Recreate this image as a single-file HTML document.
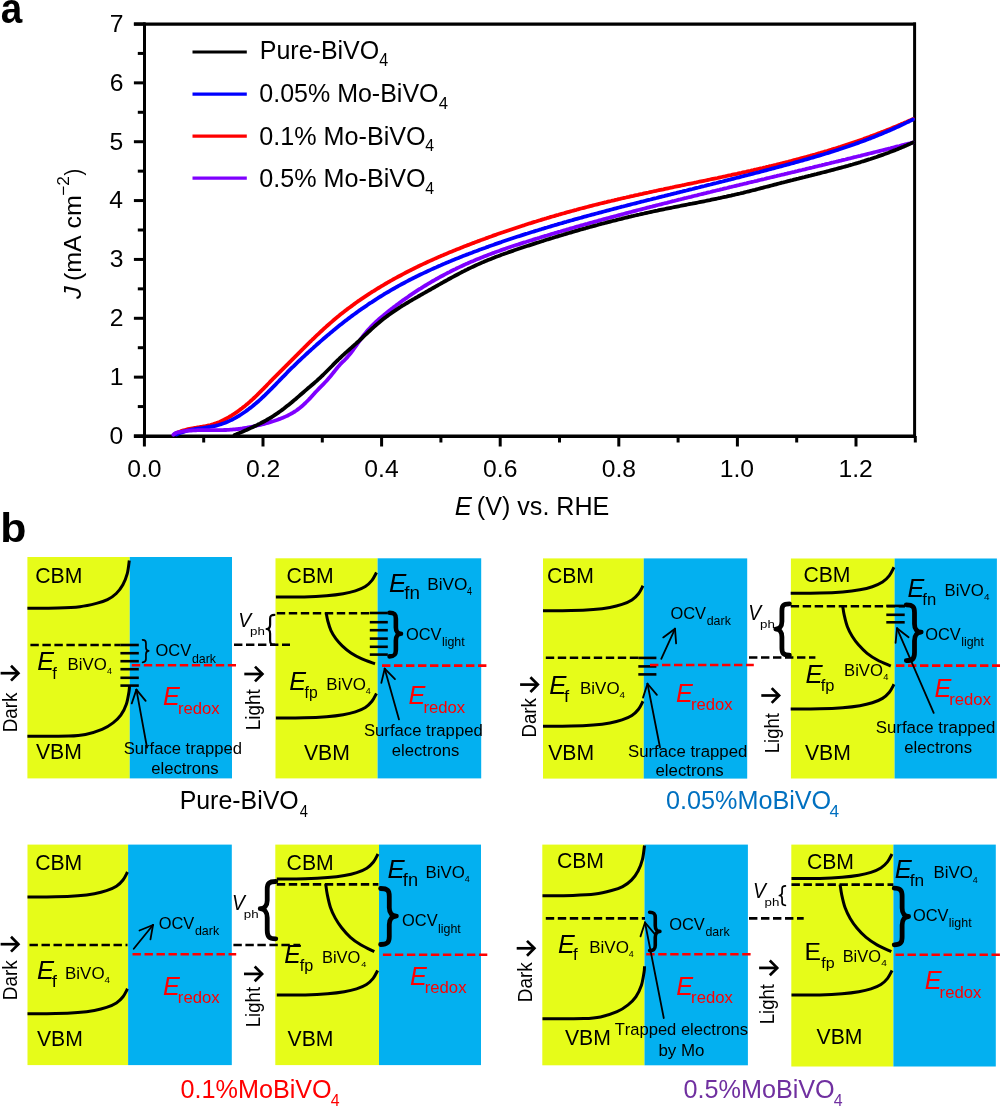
<!DOCTYPE html>
<html><head><meta charset="utf-8"><style>
html,body{margin:0;padding:0;background:#fff;}
svg{display:block;will-change:transform;}
text{font-family:"Liberation Sans", sans-serif;font-kerning:none;}
</style></head><body>
<svg width="1000" height="1107" viewBox="0 0 1000 1107">
<rect x="0" y="0" width="1000" height="1107" fill="#fff"/>
<line x1="144.50" y1="22.60" x2="144.50" y2="437.50" stroke="#000" stroke-width="3.00" stroke-linecap="butt"/>
<line x1="133.90" y1="24.20" x2="916.00" y2="24.20" stroke="#000" stroke-width="3.20" stroke-linecap="butt"/>
<line x1="914.60" y1="22.60" x2="914.60" y2="437.50" stroke="#000" stroke-width="3.00" stroke-linecap="butt"/>
<line x1="133.90" y1="436.20" x2="916.00" y2="436.20" stroke="#000" stroke-width="3.40" stroke-linecap="butt"/>
<line x1="133.90" y1="436.00" x2="145.00" y2="436.00" stroke="#000" stroke-width="3.00" stroke-linecap="butt"/>
<line x1="133.90" y1="377.14" x2="145.00" y2="377.14" stroke="#000" stroke-width="3.00" stroke-linecap="butt"/>
<line x1="133.90" y1="318.29" x2="145.00" y2="318.29" stroke="#000" stroke-width="3.00" stroke-linecap="butt"/>
<line x1="133.90" y1="259.43" x2="145.00" y2="259.43" stroke="#000" stroke-width="3.00" stroke-linecap="butt"/>
<line x1="133.90" y1="200.57" x2="145.00" y2="200.57" stroke="#000" stroke-width="3.00" stroke-linecap="butt"/>
<line x1="133.90" y1="141.72" x2="145.00" y2="141.72" stroke="#000" stroke-width="3.00" stroke-linecap="butt"/>
<line x1="133.90" y1="82.86" x2="145.00" y2="82.86" stroke="#000" stroke-width="3.00" stroke-linecap="butt"/>
<line x1="133.90" y1="24.00" x2="145.00" y2="24.00" stroke="#000" stroke-width="3.00" stroke-linecap="butt"/>
<line x1="137.80" y1="406.57" x2="145.00" y2="406.57" stroke="#000" stroke-width="3.00" stroke-linecap="butt"/>
<line x1="137.80" y1="347.71" x2="145.00" y2="347.71" stroke="#000" stroke-width="3.00" stroke-linecap="butt"/>
<line x1="137.80" y1="288.86" x2="145.00" y2="288.86" stroke="#000" stroke-width="3.00" stroke-linecap="butt"/>
<line x1="137.80" y1="230.00" x2="145.00" y2="230.00" stroke="#000" stroke-width="3.00" stroke-linecap="butt"/>
<line x1="137.80" y1="171.14" x2="145.00" y2="171.14" stroke="#000" stroke-width="3.00" stroke-linecap="butt"/>
<line x1="137.80" y1="112.29" x2="145.00" y2="112.29" stroke="#000" stroke-width="3.00" stroke-linecap="butt"/>
<line x1="137.80" y1="53.43" x2="145.00" y2="53.43" stroke="#000" stroke-width="3.00" stroke-linecap="butt"/>
<line x1="144.40" y1="436.00" x2="144.40" y2="446.50" stroke="#000" stroke-width="3.00" stroke-linecap="butt"/>
<line x1="263.00" y1="436.00" x2="263.00" y2="446.50" stroke="#000" stroke-width="3.00" stroke-linecap="butt"/>
<line x1="381.60" y1="436.00" x2="381.60" y2="446.50" stroke="#000" stroke-width="3.00" stroke-linecap="butt"/>
<line x1="500.20" y1="436.00" x2="500.20" y2="446.50" stroke="#000" stroke-width="3.00" stroke-linecap="butt"/>
<line x1="618.80" y1="436.00" x2="618.80" y2="446.50" stroke="#000" stroke-width="3.00" stroke-linecap="butt"/>
<line x1="737.40" y1="436.00" x2="737.40" y2="446.50" stroke="#000" stroke-width="3.00" stroke-linecap="butt"/>
<line x1="856.00" y1="436.00" x2="856.00" y2="446.50" stroke="#000" stroke-width="3.00" stroke-linecap="butt"/>
<line x1="203.70" y1="436.00" x2="203.70" y2="442.50" stroke="#000" stroke-width="3.00" stroke-linecap="butt"/>
<line x1="322.30" y1="436.00" x2="322.30" y2="442.50" stroke="#000" stroke-width="3.00" stroke-linecap="butt"/>
<line x1="440.90" y1="436.00" x2="440.90" y2="442.50" stroke="#000" stroke-width="3.00" stroke-linecap="butt"/>
<line x1="559.50" y1="436.00" x2="559.50" y2="442.50" stroke="#000" stroke-width="3.00" stroke-linecap="butt"/>
<line x1="678.10" y1="436.00" x2="678.10" y2="442.50" stroke="#000" stroke-width="3.00" stroke-linecap="butt"/>
<line x1="796.70" y1="436.00" x2="796.70" y2="442.50" stroke="#000" stroke-width="3.00" stroke-linecap="butt"/>
<line x1="915.30" y1="436.00" x2="915.30" y2="442.50" stroke="#000" stroke-width="3.00" stroke-linecap="butt"/>
<text x="109.53" y="443.90" style="font-size:24.70px;fill:#000">0</text>
<text x="109.77" y="385.04" style="font-size:24.70px;fill:#000">1</text>
<text x="109.81" y="326.19" style="font-size:24.70px;fill:#000">2</text>
<text x="109.65" y="267.33" style="font-size:24.70px;fill:#000">3</text>
<text x="109.29" y="208.47" style="font-size:24.70px;fill:#000">4</text>
<text x="109.60" y="149.62" style="font-size:24.70px;fill:#000">5</text>
<text x="109.65" y="90.76" style="font-size:24.70px;fill:#000">6</text>
<text x="109.81" y="31.90" style="font-size:24.70px;fill:#000">7</text>
<text x="127.23" y="476.60" style="font-size:24.70px;fill:#000">0.0</text>
<text x="245.97" y="476.60" style="font-size:24.70px;fill:#000">0.2</text>
<text x="364.31" y="476.60" style="font-size:24.70px;fill:#000">0.4</text>
<text x="483.09" y="476.60" style="font-size:24.70px;fill:#000">0.6</text>
<text x="601.69" y="476.60" style="font-size:24.70px;fill:#000">0.8</text>
<text x="719.77" y="476.60" style="font-size:24.70px;fill:#000">1.0</text>
<text x="838.51" y="476.60" style="font-size:24.70px;fill:#000">1.2</text>
<path d="M174.5,434.1 L176.0,433.3 L177.5,432.6 L179.0,432.0 L180.5,431.4 L182.0,430.9 L183.5,430.4 L185.0,430.0 L186.5,429.6 L188.0,429.2 L189.5,428.9 L191.0,428.6 L192.5,428.3 L194.0,428.0 L195.5,427.8 L197.0,427.5 L198.5,427.3 L200.0,427.0 L201.5,426.8 L203.0,426.5 L204.5,426.3 L206.0,426.0 L207.5,425.7 L209.0,425.3 L210.5,425.0 L212.0,424.5 L213.5,424.1 L215.0,423.6 L216.5,423.1 L218.0,422.5 L219.5,421.9 L221.0,421.2 L222.5,420.5 L224.0,419.8 L225.5,419.0 L227.0,418.2 L228.5,417.4 L230.0,416.5 L231.5,415.6 L233.0,414.6 L234.5,413.7 L236.0,412.6 L237.5,411.6 L239.0,410.5 L240.5,409.4 L242.0,408.3 L243.5,407.1 L245.0,405.9 L246.5,404.6 L248.0,403.4 L249.5,402.1 L251.0,400.7 L252.5,399.4 L254.0,398.0 L255.5,396.6 L257.0,395.2 L258.5,393.7 L260.0,392.2 L261.5,390.7 L263.0,389.2 L264.5,387.6 L266.0,386.1 L267.5,384.5 L269.0,383.0 L270.5,381.4 L272.0,379.9 L273.5,378.3 L275.0,376.8 L276.5,375.3 L278.0,373.8 L279.5,372.3 L281.0,370.8 L282.5,369.3 L284.0,367.8 L285.5,366.3 L287.0,364.8 L288.5,363.3 L290.0,361.8 L291.5,360.3 L293.0,358.8 L294.5,357.3 L296.0,355.8 L297.5,354.3 L299.0,352.8 L300.5,351.3 L302.0,349.8 L303.5,348.4 L305.0,346.9 L306.5,345.4 L308.0,343.9 L309.5,342.4 L311.0,341.0 L312.5,339.5 L314.0,338.1 L315.5,336.6 L317.0,335.2 L318.5,333.8 L320.0,332.4 L321.5,331.0 L323.0,329.6 L324.5,328.2 L326.0,326.9 L327.5,325.5 L329.0,324.2 L330.5,322.9 L332.0,321.6 L333.5,320.3 L335.0,319.0 L336.5,317.8 L338.0,316.6 L339.5,315.3 L341.0,314.1 L342.5,312.9 L344.0,311.8 L345.5,310.6 L347.0,309.4 L348.5,308.3 L350.0,307.2 L351.5,306.1 L353.0,305.0 L354.5,303.9 L356.0,302.8 L357.5,301.7 L359.0,300.7 L360.5,299.6 L362.0,298.6 L363.5,297.6 L365.0,296.6 L366.5,295.6 L368.0,294.6 L369.5,293.6 L371.0,292.7 L372.5,291.7 L374.0,290.8 L375.5,289.8 L377.0,288.9 L378.5,288.0 L380.0,287.1 L381.5,286.2 L383.0,285.3 L384.5,284.4 L386.0,283.5 L387.5,282.6 L389.0,281.8 L390.5,280.9 L392.0,280.1 L393.5,279.2 L395.0,278.4 L396.5,277.6 L398.0,276.8 L399.5,276.0 L401.0,275.2 L402.5,274.4 L404.0,273.6 L405.5,272.8 L407.0,272.0 L408.5,271.2 L410.0,270.5 L411.5,269.7 L413.0,269.0 L414.5,268.2 L416.0,267.5 L417.5,266.8 L419.0,266.0 L420.5,265.3 L422.0,264.6 L423.5,263.9 L425.0,263.2 L426.5,262.5 L428.0,261.8 L429.5,261.1 L431.0,260.4 L432.5,259.8 L434.0,259.1 L435.5,258.4 L437.0,257.8 L438.5,257.1 L440.0,256.5 L441.5,255.8 L443.0,255.2 L444.5,254.5 L446.0,253.9 L447.5,253.3 L449.0,252.6 L450.5,252.0 L452.0,251.4 L453.5,250.8 L455.0,250.2 L456.5,249.6 L458.0,249.0 L459.5,248.4 L461.0,247.8 L462.5,247.2 L464.0,246.6 L465.5,246.0 L467.0,245.4 L468.5,244.9 L470.0,244.3 L471.5,243.7 L473.0,243.1 L474.5,242.6 L476.0,242.0 L477.5,241.4 L479.0,240.9 L480.5,240.3 L482.0,239.8 L483.5,239.2 L485.0,238.7 L486.5,238.1 L488.0,237.6 L489.5,237.0 L491.0,236.5 L492.5,235.9 L494.0,235.4 L495.5,234.9 L497.0,234.3 L498.5,233.8 L500.0,233.3 L501.5,232.8 L503.0,232.3 L504.5,231.7 L506.0,231.2 L507.5,230.7 L509.0,230.2 L510.5,229.7 L512.0,229.2 L513.5,228.7 L515.0,228.2 L516.5,227.7 L518.0,227.2 L519.5,226.7 L521.0,226.2 L522.5,225.7 L524.0,225.3 L525.5,224.8 L527.0,224.3 L528.5,223.8 L530.0,223.3 L531.5,222.9 L533.0,222.4 L534.5,221.9 L536.0,221.5 L537.5,221.0 L539.0,220.5 L540.5,220.1 L542.0,219.6 L543.5,219.2 L545.0,218.7 L546.5,218.3 L548.0,217.8 L549.5,217.4 L551.0,216.9 L552.5,216.5 L554.0,216.1 L555.5,215.6 L557.0,215.2 L558.5,214.8 L560.0,214.3 L561.5,213.9 L563.0,213.5 L564.5,213.1 L566.0,212.6 L567.5,212.2 L569.0,211.8 L570.5,211.4 L572.0,211.0 L573.5,210.6 L575.0,210.2 L576.5,209.8 L578.0,209.3 L579.5,208.9 L581.0,208.5 L582.5,208.2 L584.0,207.8 L585.5,207.4 L587.0,207.0 L588.5,206.6 L590.0,206.2 L591.5,205.8 L593.0,205.4 L594.5,205.0 L596.0,204.7 L597.5,204.3 L599.0,203.9 L600.5,203.5 L602.0,203.2 L603.5,202.8 L605.0,202.4 L606.5,202.1 L608.0,201.7 L609.5,201.3 L611.0,201.0 L612.5,200.6 L614.0,200.3 L615.5,199.9 L617.0,199.6 L618.5,199.2 L620.0,198.9 L621.5,198.5 L623.0,198.2 L624.5,197.8 L626.0,197.5 L627.5,197.1 L629.0,196.8 L630.5,196.4 L632.0,196.1 L633.5,195.8 L635.0,195.4 L636.5,195.1 L638.0,194.8 L639.5,194.4 L641.0,194.1 L642.5,193.8 L644.0,193.4 L645.5,193.1 L647.0,192.8 L648.5,192.5 L650.0,192.1 L651.5,191.8 L653.0,191.5 L654.5,191.2 L656.0,190.9 L657.5,190.5 L659.0,190.2 L660.5,189.9 L662.0,189.6 L663.5,189.3 L665.0,188.9 L666.5,188.6 L668.0,188.3 L669.5,188.0 L671.0,187.7 L672.5,187.4 L674.0,187.0 L675.5,186.7 L677.0,186.4 L678.5,186.1 L680.0,185.8 L681.5,185.5 L683.0,185.2 L684.5,184.9 L686.0,184.5 L687.5,184.2 L689.0,183.9 L690.5,183.6 L692.0,183.3 L693.5,183.0 L695.0,182.7 L696.5,182.4 L698.0,182.0 L699.5,181.7 L701.0,181.4 L702.5,181.1 L704.0,180.8 L705.5,180.5 L707.0,180.2 L708.5,179.8 L710.0,179.5 L711.5,179.2 L713.0,178.9 L714.5,178.6 L716.0,178.3 L717.5,178.0 L719.0,177.6 L720.5,177.3 L722.0,177.0 L723.5,176.7 L725.0,176.4 L726.5,176.0 L728.0,175.7 L729.5,175.4 L731.0,175.1 L732.5,174.7 L734.0,174.4 L735.5,174.1 L737.0,173.8 L738.5,173.4 L740.0,173.1 L741.5,172.8 L743.0,172.4 L744.5,172.1 L746.0,171.8 L747.5,171.4 L749.0,171.1 L750.5,170.8 L752.0,170.4 L753.5,170.1 L755.0,169.7 L756.5,169.4 L758.0,169.0 L759.5,168.7 L761.0,168.3 L762.5,168.0 L764.0,167.6 L765.5,167.3 L767.0,166.9 L768.5,166.6 L770.0,166.2 L771.5,165.9 L773.0,165.5 L774.5,165.1 L776.0,164.8 L777.5,164.4 L779.0,164.0 L780.5,163.7 L782.0,163.3 L783.5,162.9 L785.0,162.5 L786.5,162.1 L788.0,161.8 L789.5,161.4 L791.0,161.0 L792.5,160.6 L794.0,160.2 L795.5,159.8 L797.0,159.4 L798.5,159.0 L800.0,158.6 L801.5,158.2 L803.0,157.8 L804.5,157.4 L806.0,157.0 L807.5,156.6 L809.0,156.2 L810.5,155.7 L812.0,155.3 L813.5,154.9 L815.0,154.5 L816.5,154.0 L818.0,153.6 L819.5,153.2 L821.0,152.7 L822.5,152.3 L824.0,151.9 L825.5,151.4 L827.0,151.0 L828.5,150.5 L830.0,150.0 L831.5,149.6 L833.0,149.1 L834.5,148.7 L836.0,148.2 L837.5,147.7 L839.0,147.2 L840.5,146.8 L842.0,146.3 L843.5,145.8 L845.0,145.3 L846.5,144.8 L848.0,144.3 L849.5,143.8 L851.0,143.3 L852.5,142.8 L854.0,142.3 L855.5,141.8 L857.0,141.3 L858.5,140.7 L860.0,140.2 L861.5,139.7 L863.0,139.2 L864.5,138.6 L866.0,138.1 L867.5,137.5 L869.0,137.0 L870.5,136.4 L872.0,135.9 L873.5,135.3 L875.0,134.8 L876.5,134.2 L878.0,133.6 L879.5,133.0 L881.0,132.4 L882.5,131.9 L884.0,131.3 L885.5,130.7 L887.0,130.1 L888.5,129.5 L890.0,128.9 L891.5,128.3 L893.0,127.6 L894.5,127.0 L896.0,126.4 L897.5,125.8 L899.0,125.1 L900.5,124.5 L902.0,123.8 L903.5,123.2 L905.0,122.5 L906.5,121.9 L908.0,121.2 L909.5,120.6 L911.0,119.9 L912.5,119.2 L913.0,119.0" stroke="#ff0000" stroke-width="3.8" fill="none" stroke-linejoin="round" stroke-linecap="round"/>
<path d="M176.5,434.5 L178.0,433.8 L179.5,433.2 L181.0,432.6 L182.5,432.1 L184.0,431.6 L185.5,431.1 L187.0,430.7 L188.5,430.4 L190.0,430.0 L191.5,429.7 L193.0,429.4 L194.5,429.2 L196.0,428.9 L197.5,428.7 L199.0,428.5 L200.5,428.3 L202.0,428.1 L203.5,427.9 L205.0,427.6 L206.5,427.4 L208.0,427.2 L209.5,427.0 L211.0,426.7 L212.5,426.4 L214.0,426.1 L215.5,425.8 L217.0,425.4 L218.5,425.0 L220.0,424.5 L221.5,424.1 L223.0,423.5 L224.5,423.0 L226.0,422.4 L227.5,421.8 L229.0,421.1 L230.5,420.4 L232.0,419.7 L233.5,418.9 L235.0,418.1 L236.5,417.2 L238.0,416.4 L239.5,415.5 L241.0,414.5 L242.5,413.5 L244.0,412.5 L245.5,411.5 L247.0,410.4 L248.5,409.3 L250.0,408.1 L251.5,407.0 L253.0,405.8 L254.5,404.5 L256.0,403.3 L257.5,402.0 L259.0,400.7 L260.5,399.3 L262.0,397.9 L263.5,396.5 L265.0,395.1 L266.5,393.6 L268.0,392.2 L269.5,390.7 L271.0,389.2 L272.5,387.6 L274.0,386.1 L275.5,384.6 L277.0,383.0 L278.5,381.5 L280.0,379.9 L281.5,378.4 L283.0,376.8 L284.5,375.3 L286.0,373.8 L287.5,372.2 L289.0,370.7 L290.5,369.2 L292.0,367.7 L293.5,366.3 L295.0,364.8 L296.5,363.3 L298.0,361.9 L299.5,360.5 L301.0,359.1 L302.5,357.7 L304.0,356.3 L305.5,354.9 L307.0,353.5 L308.5,352.1 L310.0,350.8 L311.5,349.4 L313.0,348.1 L314.5,346.7 L316.0,345.4 L317.5,344.0 L319.0,342.7 L320.5,341.4 L322.0,340.1 L323.5,338.8 L325.0,337.5 L326.5,336.2 L328.0,334.9 L329.5,333.7 L331.0,332.4 L332.5,331.2 L334.0,329.9 L335.5,328.7 L337.0,327.5 L338.5,326.3 L340.0,325.1 L341.5,323.9 L343.0,322.7 L344.5,321.5 L346.0,320.4 L347.5,319.2 L349.0,318.1 L350.5,317.0 L352.0,315.9 L353.5,314.8 L355.0,313.7 L356.5,312.6 L358.0,311.5 L359.5,310.4 L361.0,309.4 L362.5,308.3 L364.0,307.3 L365.5,306.3 L367.0,305.3 L368.5,304.2 L370.0,303.2 L371.5,302.3 L373.0,301.3 L374.5,300.3 L376.0,299.3 L377.5,298.4 L379.0,297.4 L380.5,296.5 L382.0,295.6 L383.5,294.7 L385.0,293.7 L386.5,292.8 L388.0,292.0 L389.5,291.1 L391.0,290.2 L392.5,289.3 L394.0,288.5 L395.5,287.6 L397.0,286.8 L398.5,285.9 L400.0,285.1 L401.5,284.3 L403.0,283.5 L404.5,282.7 L406.0,281.9 L407.5,281.1 L409.0,280.3 L410.5,279.5 L412.0,278.8 L413.5,278.0 L415.0,277.3 L416.5,276.5 L418.0,275.8 L419.5,275.0 L421.0,274.3 L422.5,273.6 L424.0,272.9 L425.5,272.2 L427.0,271.5 L428.5,270.8 L430.0,270.1 L431.5,269.4 L433.0,268.7 L434.5,268.0 L436.0,267.4 L437.5,266.7 L439.0,266.0 L440.5,265.4 L442.0,264.7 L443.5,264.1 L445.0,263.4 L446.5,262.8 L448.0,262.2 L449.5,261.6 L451.0,260.9 L452.5,260.3 L454.0,259.7 L455.5,259.1 L457.0,258.5 L458.5,257.9 L460.0,257.3 L461.5,256.7 L463.0,256.1 L464.5,255.5 L466.0,254.9 L467.5,254.4 L469.0,253.8 L470.5,253.2 L472.0,252.7 L473.5,252.1 L475.0,251.5 L476.5,251.0 L478.0,250.4 L479.5,249.8 L481.0,249.3 L482.5,248.7 L484.0,248.2 L485.5,247.7 L487.0,247.1 L488.5,246.6 L490.0,246.0 L491.5,245.5 L493.0,245.0 L494.5,244.4 L496.0,243.9 L497.5,243.4 L499.0,242.9 L500.5,242.4 L502.0,241.8 L503.5,241.3 L505.0,240.8 L506.5,240.3 L508.0,239.8 L509.5,239.3 L511.0,238.8 L512.5,238.3 L514.0,237.8 L515.5,237.3 L517.0,236.8 L518.5,236.3 L520.0,235.9 L521.5,235.4 L523.0,234.9 L524.5,234.4 L526.0,233.9 L527.5,233.5 L529.0,233.0 L530.5,232.5 L532.0,232.0 L533.5,231.6 L535.0,231.1 L536.5,230.7 L538.0,230.2 L539.5,229.7 L541.0,229.3 L542.5,228.8 L544.0,228.4 L545.5,227.9 L547.0,227.5 L548.5,227.0 L550.0,226.6 L551.5,226.1 L553.0,225.7 L554.5,225.2 L556.0,224.8 L557.5,224.4 L559.0,223.9 L560.5,223.5 L562.0,223.1 L563.5,222.6 L565.0,222.2 L566.5,221.8 L568.0,221.3 L569.5,220.9 L571.0,220.5 L572.5,220.1 L574.0,219.6 L575.5,219.2 L577.0,218.8 L578.5,218.4 L580.0,218.0 L581.5,217.6 L583.0,217.1 L584.5,216.7 L586.0,216.3 L587.5,215.9 L589.0,215.5 L590.5,215.1 L592.0,214.7 L593.5,214.3 L595.0,213.9 L596.5,213.5 L598.0,213.1 L599.5,212.7 L601.0,212.3 L602.5,211.9 L604.0,211.5 L605.5,211.1 L607.0,210.7 L608.5,210.3 L610.0,209.9 L611.5,209.5 L613.0,209.1 L614.5,208.7 L616.0,208.3 L617.5,207.9 L619.0,207.5 L620.5,207.1 L622.0,206.7 L623.5,206.4 L625.0,206.0 L626.5,205.6 L628.0,205.2 L629.5,204.8 L631.0,204.4 L632.5,204.0 L634.0,203.7 L635.5,203.3 L637.0,202.9 L638.5,202.5 L640.0,202.1 L641.5,201.7 L643.0,201.4 L644.5,201.0 L646.0,200.6 L647.5,200.2 L649.0,199.8 L650.5,199.5 L652.0,199.1 L653.5,198.7 L655.0,198.3 L656.5,198.0 L658.0,197.6 L659.5,197.2 L661.0,196.8 L662.5,196.4 L664.0,196.1 L665.5,195.7 L667.0,195.3 L668.5,194.9 L670.0,194.6 L671.5,194.2 L673.0,193.8 L674.5,193.4 L676.0,193.1 L677.5,192.7 L679.0,192.3 L680.5,191.9 L682.0,191.6 L683.5,191.2 L685.0,190.8 L686.5,190.5 L688.0,190.1 L689.5,189.7 L691.0,189.3 L692.5,189.0 L694.0,188.6 L695.5,188.2 L697.0,187.8 L698.5,187.5 L700.0,187.1 L701.5,186.7 L703.0,186.3 L704.5,186.0 L706.0,185.6 L707.5,185.2 L709.0,184.8 L710.5,184.5 L712.0,184.1 L713.5,183.7 L715.0,183.3 L716.5,183.0 L718.0,182.6 L719.5,182.2 L721.0,181.8 L722.5,181.5 L724.0,181.1 L725.5,180.7 L727.0,180.3 L728.5,179.9 L730.0,179.6 L731.5,179.2 L733.0,178.8 L734.5,178.4 L736.0,178.0 L737.5,177.7 L739.0,177.3 L740.5,176.9 L742.0,176.5 L743.5,176.1 L745.0,175.7 L746.5,175.4 L748.0,175.0 L749.5,174.6 L751.0,174.2 L752.5,173.8 L754.0,173.4 L755.5,173.0 L757.0,172.6 L758.5,172.3 L760.0,171.9 L761.5,171.5 L763.0,171.1 L764.5,170.7 L766.0,170.3 L767.5,169.9 L769.0,169.5 L770.5,169.1 L772.0,168.7 L773.5,168.3 L775.0,167.9 L776.5,167.5 L778.0,167.1 L779.5,166.7 L781.0,166.3 L782.5,165.9 L784.0,165.5 L785.5,165.1 L787.0,164.7 L788.5,164.3 L790.0,163.9 L791.5,163.5 L793.0,163.1 L794.5,162.6 L796.0,162.2 L797.5,161.8 L799.0,161.4 L800.5,161.0 L802.0,160.6 L803.5,160.1 L805.0,159.7 L806.5,159.3 L808.0,158.9 L809.5,158.4 L811.0,158.0 L812.5,157.6 L814.0,157.1 L815.5,156.7 L817.0,156.2 L818.5,155.8 L820.0,155.4 L821.5,154.9 L823.0,154.5 L824.5,154.0 L826.0,153.5 L827.5,153.1 L829.0,152.6 L830.5,152.1 L832.0,151.7 L833.5,151.2 L835.0,150.7 L836.5,150.2 L838.0,149.8 L839.5,149.3 L841.0,148.8 L842.5,148.3 L844.0,147.8 L845.5,147.3 L847.0,146.8 L848.5,146.3 L850.0,145.7 L851.5,145.2 L853.0,144.7 L854.5,144.2 L856.0,143.6 L857.5,143.1 L859.0,142.6 L860.5,142.0 L862.0,141.5 L863.5,140.9 L865.0,140.4 L866.5,139.8 L868.0,139.2 L869.5,138.6 L871.0,138.1 L872.5,137.5 L874.0,136.9 L875.5,136.3 L877.0,135.7 L878.5,135.1 L880.0,134.5 L881.5,133.9 L883.0,133.2 L884.5,132.6 L886.0,132.0 L887.5,131.3 L889.0,130.7 L890.5,130.0 L892.0,129.4 L893.5,128.7 L895.0,128.0 L896.5,127.3 L898.0,126.7 L899.5,126.0 L901.0,125.3 L902.5,124.6 L904.0,123.9 L905.5,123.1 L907.0,122.4 L908.5,121.7 L910.0,120.9 L911.5,120.2 L913.0,119.4" stroke="#0000ff" stroke-width="3.8" fill="none" stroke-linejoin="round" stroke-linecap="round"/>
<path d="M173.4,434.8 L174.9,433.5 L176.4,432.8 L177.9,432.3 L179.4,432.0 L180.9,431.8 L182.4,431.5 L183.9,431.3 L185.4,431.1 L186.9,430.9 L188.4,430.7 L189.9,430.6 L191.4,430.5 L192.9,430.4 L194.4,430.3 L195.9,430.3 L197.4,430.2 L198.9,430.2 L200.4,430.2 L201.9,430.1 L203.4,430.1 L204.9,430.1 L206.4,430.1 L207.9,430.1 L209.4,430.1 L210.9,430.2 L212.4,430.2 L213.9,430.2 L215.4,430.2 L216.9,430.2 L218.4,430.2 L219.9,430.1 L221.4,430.1 L222.9,430.1 L224.4,430.0 L225.9,430.0 L227.4,429.9 L228.9,429.8 L230.4,429.7 L231.9,429.6 L233.4,429.4 L234.9,429.3 L236.4,429.1 L237.9,429.0 L239.4,428.8 L240.9,428.6 L242.4,428.4 L243.9,428.1 L245.4,427.9 L246.9,427.7 L248.4,427.4 L249.9,427.1 L251.4,426.8 L252.9,426.5 L254.4,426.2 L255.9,425.9 L257.4,425.5 L258.9,425.2 L260.4,424.8 L261.9,424.4 L263.4,424.1 L264.9,423.6 L266.4,423.2 L267.9,422.8 L269.4,422.4 L270.9,421.9 L272.4,421.4 L273.9,421.0 L275.4,420.5 L276.9,420.0 L278.4,419.4 L279.9,418.9 L281.4,418.3 L282.9,417.7 L284.4,417.1 L285.9,416.4 L287.4,415.7 L288.9,414.9 L290.4,414.1 L291.9,413.3 L293.4,412.4 L294.9,411.5 L296.4,410.5 L297.9,409.4 L299.4,408.3 L300.9,407.1 L302.4,405.8 L303.9,404.4 L305.4,403.0 L306.9,401.5 L308.4,400.0 L309.9,398.4 L311.4,396.7 L312.9,395.1 L314.4,393.4 L315.9,391.8 L317.4,390.2 L318.9,388.6 L320.4,387.1 L321.9,385.6 L323.4,384.1 L324.9,382.5 L326.4,381.0 L327.9,379.3 L329.4,377.6 L330.9,375.8 L332.4,373.9 L333.9,372.0 L335.4,370.1 L336.9,368.2 L338.4,366.4 L339.9,364.7 L341.4,363.2 L342.9,361.7 L344.4,360.3 L345.9,358.7 L347.4,357.1 L348.9,355.3 L350.4,353.5 L351.9,351.5 L353.4,349.5 L354.9,347.4 L356.4,345.3 L357.9,343.2 L359.4,341.1 L360.9,339.0 L362.4,337.0 L363.9,335.0 L365.4,333.1 L366.9,331.3 L368.4,329.6 L369.9,328.0 L371.4,326.4 L372.9,324.9 L374.4,323.4 L375.9,322.0 L377.4,320.6 L378.9,319.3 L380.4,318.0 L381.9,316.7 L383.4,315.5 L384.9,314.2 L386.4,313.0 L387.9,311.8 L389.4,310.6 L390.9,309.4 L392.4,308.3 L393.9,307.1 L395.4,306.0 L396.9,304.8 L398.4,303.7 L399.9,302.6 L401.4,301.5 L402.9,300.4 L404.4,299.4 L405.9,298.3 L407.4,297.3 L408.9,296.2 L410.4,295.2 L411.9,294.2 L413.4,293.2 L414.9,292.2 L416.4,291.2 L417.9,290.2 L419.4,289.2 L420.9,288.3 L422.4,287.3 L423.9,286.4 L425.4,285.5 L426.9,284.6 L428.4,283.7 L429.9,282.8 L431.4,281.9 L432.9,281.0 L434.4,280.2 L435.9,279.3 L437.4,278.5 L438.9,277.6 L440.4,276.8 L441.9,276.0 L443.4,275.2 L444.9,274.4 L446.4,273.6 L447.9,272.8 L449.4,272.1 L450.9,271.3 L452.4,270.5 L453.9,269.8 L455.4,269.1 L456.9,268.3 L458.4,267.6 L459.9,266.9 L461.4,266.2 L462.9,265.5 L464.4,264.8 L465.9,264.1 L467.4,263.5 L468.9,262.8 L470.4,262.1 L471.9,261.5 L473.4,260.9 L474.9,260.2 L476.4,259.6 L477.9,259.0 L479.4,258.4 L480.9,257.8 L482.4,257.2 L483.9,256.6 L485.4,256.0 L486.9,255.4 L488.4,254.8 L489.9,254.3 L491.4,253.7 L492.9,253.1 L494.4,252.6 L495.9,252.0 L497.4,251.5 L498.9,251.0 L500.4,250.4 L501.9,249.9 L503.4,249.4 L504.9,248.9 L506.4,248.3 L507.9,247.8 L509.4,247.3 L510.9,246.8 L512.4,246.3 L513.9,245.8 L515.4,245.3 L516.9,244.8 L518.4,244.4 L519.9,243.9 L521.4,243.4 L522.9,242.9 L524.4,242.4 L525.9,242.0 L527.4,241.5 L528.9,241.0 L530.4,240.5 L531.9,240.1 L533.4,239.6 L534.9,239.1 L536.4,238.7 L537.9,238.2 L539.4,237.8 L540.9,237.3 L542.4,236.8 L543.9,236.4 L545.4,235.9 L546.9,235.5 L548.4,235.0 L549.9,234.6 L551.4,234.1 L552.9,233.7 L554.4,233.2 L555.9,232.8 L557.4,232.4 L558.9,231.9 L560.4,231.5 L561.9,231.0 L563.4,230.6 L564.9,230.2 L566.4,229.7 L567.9,229.3 L569.4,228.9 L570.9,228.4 L572.4,228.0 L573.9,227.6 L575.4,227.1 L576.9,226.7 L578.4,226.3 L579.9,225.9 L581.4,225.4 L582.9,225.0 L584.4,224.6 L585.9,224.2 L587.4,223.8 L588.9,223.3 L590.4,222.9 L591.9,222.5 L593.4,222.1 L594.9,221.7 L596.4,221.3 L597.9,220.9 L599.4,220.4 L600.9,220.0 L602.4,219.6 L603.9,219.2 L605.4,218.8 L606.9,218.4 L608.4,218.0 L609.9,217.6 L611.4,217.2 L612.9,216.8 L614.4,216.4 L615.9,216.0 L617.4,215.6 L618.9,215.2 L620.4,214.8 L621.9,214.4 L623.4,214.0 L624.9,213.6 L626.4,213.2 L627.9,212.8 L629.4,212.4 L630.9,212.0 L632.4,211.6 L633.9,211.2 L635.4,210.8 L636.9,210.4 L638.4,210.0 L639.9,209.7 L641.4,209.3 L642.9,208.9 L644.4,208.5 L645.9,208.1 L647.4,207.7 L648.9,207.3 L650.4,206.9 L651.9,206.6 L653.4,206.2 L654.9,205.8 L656.4,205.4 L657.9,205.0 L659.4,204.7 L660.9,204.3 L662.4,203.9 L663.9,203.5 L665.4,203.1 L666.9,202.8 L668.4,202.4 L669.9,202.0 L671.4,201.6 L672.9,201.2 L674.4,200.9 L675.9,200.5 L677.4,200.1 L678.9,199.7 L680.4,199.4 L681.9,199.0 L683.4,198.6 L684.9,198.2 L686.4,197.9 L687.9,197.5 L689.4,197.1 L690.9,196.8 L692.4,196.4 L693.9,196.0 L695.4,195.6 L696.9,195.3 L698.4,194.9 L699.9,194.5 L701.4,194.2 L702.9,193.8 L704.4,193.4 L705.9,193.1 L707.4,192.7 L708.9,192.3 L710.4,192.0 L711.9,191.6 L713.4,191.2 L714.9,190.9 L716.4,190.5 L717.9,190.1 L719.4,189.8 L720.9,189.4 L722.4,189.1 L723.9,188.7 L725.4,188.3 L726.9,188.0 L728.4,187.6 L729.9,187.2 L731.4,186.9 L732.9,186.5 L734.4,186.2 L735.9,185.8 L737.4,185.4 L738.9,185.1 L740.4,184.7 L741.9,184.4 L743.4,184.0 L744.9,183.6 L746.4,183.3 L747.9,182.9 L749.4,182.5 L750.9,182.2 L752.4,181.8 L753.9,181.5 L755.4,181.1 L756.9,180.8 L758.4,180.4 L759.9,180.0 L761.4,179.7 L762.9,179.3 L764.4,179.0 L765.9,178.6 L767.4,178.2 L768.9,177.9 L770.4,177.5 L771.9,177.2 L773.4,176.8 L774.9,176.4 L776.4,176.1 L777.9,175.7 L779.4,175.4 L780.9,175.0 L782.4,174.6 L783.9,174.3 L785.4,173.9 L786.9,173.6 L788.4,173.2 L789.9,172.9 L791.4,172.5 L792.9,172.1 L794.4,171.8 L795.9,171.4 L797.4,171.1 L798.9,170.7 L800.4,170.3 L801.9,170.0 L803.4,169.6 L804.9,169.3 L806.4,168.9 L807.9,168.5 L809.4,168.2 L810.9,167.8 L812.4,167.5 L813.9,167.1 L815.4,166.7 L816.9,166.4 L818.4,166.0 L819.9,165.6 L821.4,165.3 L822.9,164.9 L824.4,164.6 L825.9,164.2 L827.4,163.8 L828.9,163.5 L830.4,163.1 L831.9,162.7 L833.4,162.4 L834.9,162.0 L836.4,161.7 L837.9,161.3 L839.4,160.9 L840.9,160.6 L842.4,160.2 L843.9,159.8 L845.4,159.5 L846.9,159.1 L848.4,158.7 L849.9,158.4 L851.4,158.0 L852.9,157.6 L854.4,157.2 L855.9,156.9 L857.4,156.5 L858.9,156.1 L860.4,155.8 L861.9,155.4 L863.4,155.0 L864.9,154.7 L866.4,154.3 L867.9,153.9 L869.4,153.5 L870.9,153.2 L872.4,152.8 L873.9,152.4 L875.4,152.0 L876.9,151.7 L878.4,151.3 L879.9,150.9 L881.4,150.5 L882.9,150.2 L884.4,149.8 L885.9,149.4 L887.4,149.0 L888.9,148.6 L890.4,148.3 L891.9,147.9 L893.4,147.5 L894.9,147.1 L896.4,146.7 L897.9,146.3 L899.4,146.0 L900.9,145.6 L902.4,145.2 L903.9,144.8 L905.4,144.4 L906.9,144.0 L908.4,143.6 L909.9,143.3 L911.4,142.9 L912.9,142.5 L913.0,142.5" stroke="#7f00ff" stroke-width="3.8" fill="none" stroke-linejoin="round" stroke-linecap="round"/>
<path d="M234.5,435.1 L236.0,434.5 L237.5,433.8 L239.0,433.2 L240.5,432.6 L242.0,431.9 L243.5,431.3 L245.0,430.6 L246.5,430.0 L248.0,429.3 L249.5,428.6 L251.0,427.9 L252.5,427.2 L254.0,426.5 L255.5,425.8 L257.0,425.1 L258.5,424.3 L260.0,423.6 L261.5,422.8 L263.0,422.0 L264.5,421.2 L266.0,420.4 L267.5,419.5 L269.0,418.6 L270.5,417.8 L272.0,416.8 L273.5,415.9 L275.0,414.9 L276.5,413.9 L278.0,412.9 L279.5,411.8 L281.0,410.7 L282.5,409.6 L284.0,408.5 L285.5,407.3 L287.0,406.1 L288.5,404.9 L290.0,403.7 L291.5,402.5 L293.0,401.2 L294.5,399.9 L296.0,398.7 L297.5,397.4 L299.0,396.1 L300.5,394.8 L302.0,393.5 L303.5,392.2 L305.0,390.9 L306.5,389.6 L308.0,388.3 L309.5,387.1 L311.0,385.8 L312.5,384.5 L314.0,383.2 L315.5,381.9 L317.0,380.6 L318.5,379.2 L320.0,377.8 L321.5,376.4 L323.0,375.0 L324.5,373.5 L326.0,372.0 L327.5,370.5 L329.0,369.0 L330.5,367.5 L332.0,366.0 L333.5,364.4 L335.0,362.9 L336.5,361.4 L338.0,360.0 L339.5,358.5 L341.0,357.1 L342.5,355.7 L344.0,354.3 L345.5,352.9 L347.0,351.6 L348.5,350.3 L350.0,348.9 L351.5,347.6 L353.0,346.3 L354.5,344.9 L356.0,343.6 L357.5,342.2 L359.0,340.9 L360.5,339.5 L362.0,338.1 L363.5,336.6 L365.0,335.2 L366.5,333.8 L368.0,332.4 L369.5,331.0 L371.0,329.6 L372.5,328.2 L374.0,326.9 L375.5,325.5 L377.0,324.2 L378.5,323.0 L380.0,321.7 L381.5,320.5 L383.0,319.3 L384.5,318.1 L386.0,317.0 L387.5,315.9 L389.0,314.8 L390.5,313.7 L392.0,312.6 L393.5,311.6 L395.0,310.6 L396.5,309.6 L398.0,308.6 L399.5,307.6 L401.0,306.7 L402.5,305.7 L404.0,304.8 L405.5,303.9 L407.0,303.0 L408.5,302.1 L410.0,301.2 L411.5,300.3 L413.0,299.4 L414.5,298.6 L416.0,297.7 L417.5,296.9 L419.0,296.0 L420.5,295.1 L422.0,294.3 L423.5,293.4 L425.0,292.6 L426.5,291.7 L428.0,290.9 L429.5,290.0 L431.0,289.2 L432.5,288.3 L434.0,287.5 L435.5,286.6 L437.0,285.8 L438.5,284.9 L440.0,284.1 L441.5,283.2 L443.0,282.4 L444.5,281.5 L446.0,280.7 L447.5,279.9 L449.0,279.0 L450.5,278.2 L452.0,277.4 L453.5,276.6 L455.0,275.8 L456.5,275.0 L458.0,274.2 L459.5,273.4 L461.0,272.6 L462.5,271.8 L464.0,271.1 L465.5,270.3 L467.0,269.6 L468.5,268.8 L470.0,268.1 L471.5,267.4 L473.0,266.7 L474.5,266.0 L476.0,265.3 L477.5,264.6 L479.0,263.9 L480.5,263.3 L482.0,262.6 L483.5,262.0 L485.0,261.3 L486.5,260.7 L488.0,260.1 L489.5,259.5 L491.0,258.9 L492.5,258.3 L494.0,257.7 L495.5,257.1 L497.0,256.5 L498.5,256.0 L500.0,255.4 L501.5,254.8 L503.0,254.3 L504.5,253.7 L506.0,253.2 L507.5,252.7 L509.0,252.1 L510.5,251.6 L512.0,251.1 L513.5,250.6 L515.0,250.0 L516.5,249.5 L518.0,249.0 L519.5,248.5 L521.0,248.0 L522.5,247.5 L524.0,247.0 L525.5,246.5 L527.0,246.0 L528.5,245.6 L530.0,245.1 L531.5,244.6 L533.0,244.1 L534.5,243.6 L536.0,243.1 L537.5,242.7 L539.0,242.2 L540.5,241.7 L542.0,241.2 L543.5,240.8 L545.0,240.3 L546.5,239.8 L548.0,239.3 L549.5,238.9 L551.0,238.4 L552.5,238.0 L554.0,237.5 L555.5,237.0 L557.0,236.6 L558.5,236.1 L560.0,235.7 L561.5,235.2 L563.0,234.8 L564.5,234.3 L566.0,233.9 L567.5,233.4 L569.0,233.0 L570.5,232.6 L572.0,232.1 L573.5,231.7 L575.0,231.2 L576.5,230.8 L578.0,230.4 L579.5,229.9 L581.0,229.5 L582.5,229.1 L584.0,228.7 L585.5,228.3 L587.0,227.8 L588.5,227.4 L590.0,227.0 L591.5,226.6 L593.0,226.2 L594.5,225.8 L596.0,225.4 L597.5,225.0 L599.0,224.5 L600.5,224.1 L602.0,223.7 L603.5,223.4 L605.0,223.0 L606.5,222.6 L608.0,222.2 L609.5,221.8 L611.0,221.4 L612.5,221.0 L614.0,220.6 L615.5,220.3 L617.0,219.9 L618.5,219.5 L620.0,219.1 L621.5,218.8 L623.0,218.4 L624.5,218.0 L626.0,217.7 L627.5,217.3 L629.0,216.9 L630.5,216.6 L632.0,216.2 L633.5,215.9 L635.0,215.5 L636.5,215.2 L638.0,214.8 L639.5,214.5 L641.0,214.1 L642.5,213.8 L644.0,213.5 L645.5,213.1 L647.0,212.8 L648.5,212.5 L650.0,212.2 L651.5,211.8 L653.0,211.5 L654.5,211.2 L656.0,210.9 L657.5,210.6 L659.0,210.2 L660.5,209.9 L662.0,209.6 L663.5,209.3 L665.0,209.0 L666.5,208.7 L668.0,208.4 L669.5,208.1 L671.0,207.8 L672.5,207.5 L674.0,207.2 L675.5,206.9 L677.0,206.6 L678.5,206.3 L680.0,206.0 L681.5,205.7 L683.0,205.4 L684.5,205.1 L686.0,204.8 L687.5,204.5 L689.0,204.2 L690.5,203.9 L692.0,203.7 L693.5,203.4 L695.0,203.1 L696.5,202.8 L698.0,202.5 L699.5,202.2 L701.0,201.9 L702.5,201.6 L704.0,201.3 L705.5,201.0 L707.0,200.7 L708.5,200.4 L710.0,200.1 L711.5,199.7 L713.0,199.4 L714.5,199.1 L716.0,198.8 L717.5,198.5 L719.0,198.2 L720.5,197.9 L722.0,197.5 L723.5,197.2 L725.0,196.9 L726.5,196.6 L728.0,196.2 L729.5,195.9 L731.0,195.6 L732.5,195.2 L734.0,194.9 L735.5,194.5 L737.0,194.2 L738.5,193.8 L740.0,193.5 L741.5,193.1 L743.0,192.8 L744.5,192.4 L746.0,192.0 L747.5,191.7 L749.0,191.3 L750.5,190.9 L752.0,190.5 L753.5,190.1 L755.0,189.8 L756.5,189.4 L758.0,189.0 L759.5,188.6 L761.0,188.2 L762.5,187.8 L764.0,187.4 L765.5,187.0 L767.0,186.7 L768.5,186.3 L770.0,185.9 L771.5,185.5 L773.0,185.1 L774.5,184.7 L776.0,184.3 L777.5,183.9 L779.0,183.5 L780.5,183.1 L782.0,182.7 L783.5,182.4 L785.0,182.0 L786.5,181.6 L788.0,181.2 L789.5,180.8 L791.0,180.4 L792.5,180.1 L794.0,179.7 L795.5,179.3 L797.0,178.9 L798.5,178.6 L800.0,178.2 L801.5,177.8 L803.0,177.4 L804.5,177.1 L806.0,176.7 L807.5,176.3 L809.0,175.9 L810.5,175.6 L812.0,175.2 L813.5,174.8 L815.0,174.4 L816.5,174.1 L818.0,173.7 L819.5,173.3 L821.0,172.9 L822.5,172.5 L824.0,172.2 L825.5,171.8 L827.0,171.4 L828.5,171.0 L830.0,170.6 L831.5,170.2 L833.0,169.8 L834.5,169.4 L836.0,169.0 L837.5,168.6 L839.0,168.2 L840.5,167.8 L842.0,167.4 L843.5,167.0 L845.0,166.6 L846.5,166.2 L848.0,165.8 L849.5,165.3 L851.0,164.9 L852.5,164.5 L854.0,164.0 L855.5,163.6 L857.0,163.2 L858.5,162.7 L860.0,162.3 L861.5,161.8 L863.0,161.3 L864.5,160.9 L866.0,160.4 L867.5,159.9 L869.0,159.4 L870.5,159.0 L872.0,158.5 L873.5,158.0 L875.0,157.5 L876.5,157.0 L878.0,156.4 L879.5,155.9 L881.0,155.4 L882.5,154.9 L884.0,154.3 L885.5,153.8 L887.0,153.2 L888.5,152.7 L890.0,152.1 L891.5,151.5 L893.0,150.9 L894.5,150.4 L896.0,149.8 L897.5,149.2 L899.0,148.5 L900.5,147.9 L902.0,147.3 L903.5,146.7 L905.0,146.0 L906.5,145.4 L908.0,144.7 L909.5,144.1 L911.0,143.4 L912.5,142.7 L913.0,142.5" stroke="#000000" stroke-width="3.8" fill="none" stroke-linejoin="round" stroke-linecap="round"/>
<line x1="192.50" y1="52.00" x2="246.80" y2="52.00" stroke="#000000" stroke-width="3.20" stroke-linecap="butt"/>
<text x="259.75" y="59.30" style="font-size:25.00px;fill:#000">Pure-BiVO</text>
<text x="379.23" y="65.50" style="font-size:17.73px;fill:#000" textLength="8.94" lengthAdjust="spacingAndGlyphs">4</text>
<line x1="192.50" y1="94.20" x2="246.80" y2="94.20" stroke="#0000ff" stroke-width="3.20" stroke-linecap="butt"/>
<text x="259.32" y="101.90" style="font-size:25.00px;fill:#000">0.05% Mo-BiVO</text>
<text x="438.72" y="108.60" style="font-size:17.30px;fill:#000" textLength="9.27" lengthAdjust="spacingAndGlyphs">4</text>
<line x1="192.50" y1="136.20" x2="246.80" y2="136.20" stroke="#ff0000" stroke-width="3.20" stroke-linecap="butt"/>
<text x="259.32" y="144.90" style="font-size:25.00px;fill:#000" textLength="166.29" lengthAdjust="spacingAndGlyphs">0.1% Mo-BiVO</text>
<text x="425.14" y="151.30" style="font-size:17.30px;fill:#000" textLength="8.83" lengthAdjust="spacingAndGlyphs">4</text>
<line x1="192.50" y1="178.20" x2="246.80" y2="178.20" stroke="#7f00ff" stroke-width="3.20" stroke-linecap="butt"/>
<text x="259.32" y="187.00" style="font-size:25.00px;fill:#000" textLength="166.29" lengthAdjust="spacingAndGlyphs">0.5% Mo-BiVO</text>
<text x="425.14" y="194.00" style="font-size:17.15px;fill:#000" textLength="8.83" lengthAdjust="spacingAndGlyphs">4</text>
<g transform="translate(81,300) rotate(-90)">
<text x="1.06" y="0.00" style="font-size:23.90px;font-style:italic;fill:#000" textLength="12.74" lengthAdjust="spacingAndGlyphs">J</text>
<text x="18.95" y="0.00" style="font-size:23.90px;fill:#000" textLength="85.89" lengthAdjust="spacingAndGlyphs">(mA cm</text>
<text x="104.15" y="-12.30" style="font-size:16.70px;fill:#000" textLength="19.72" lengthAdjust="spacingAndGlyphs">−2</text>
<text x="124.38" y="0.00" style="font-size:23.90px;fill:#000" textLength="6.78" lengthAdjust="spacingAndGlyphs">)</text>
</g>
<text x="454.81" y="514.60" style="font-size:25.90px;font-style:italic;fill:#000" textLength="17.15" lengthAdjust="spacingAndGlyphs">E</text>
<text x="476.84" y="514.60" style="font-size:25.50px;fill:#000" textLength="132.54" lengthAdjust="spacingAndGlyphs">(V) vs. RHE</text>
<text x="0.67" y="22.80" style="font-size:42.00px;font-weight:bold;fill:#000" textLength="21.49" lengthAdjust="spacingAndGlyphs">a</text>
<text x="0.17" y="542.30" style="font-size:41.30px;font-weight:bold;fill:#000" textLength="26.18" lengthAdjust="spacingAndGlyphs">b</text>
<rect x="27.40" y="557.00" width="102.35" height="221.40" fill="#e6fc19"/>
<rect x="129.75" y="557.00" width="102.25" height="221.40" fill="#03b0f0"/>
<path d="M27.40,608.30 C32.46,608.25 49.02,608.28 57.77,608.01 C66.51,607.75 73.44,607.50 79.88,606.72 C86.32,605.95 91.78,604.56 96.39,603.38 C100.99,602.19 104.18,601.25 107.49,599.60 C110.81,597.95 113.69,595.97 116.26,593.48 C118.82,591.00 121.05,587.98 122.88,584.69 C124.71,581.39 126.19,577.72 127.26,573.69 C128.33,569.66 128.96,562.70 129.30,560.50" stroke="#000" stroke-width="3.00" fill="none"/>
<path d="M27.40,736.30 C34.33,736.27 59.27,736.39 68.95,736.10 C78.64,735.80 79.98,735.62 85.49,734.52 C91.01,733.42 97.44,731.43 102.04,729.49 C106.63,727.55 109.93,725.27 113.06,722.89 C116.19,720.51 118.61,718.33 120.82,715.22 C123.03,712.10 124.96,708.23 126.33,704.19 C127.71,700.16 128.56,694.10 129.09,690.99 C129.62,687.87 129.43,686.41 129.50,685.50" stroke="#000" stroke-width="3.00" fill="none"/>
<line x1="30.4" y1="645.00" x2="120.5" y2="645.00" stroke="#000" stroke-width="2.6" stroke-dasharray="8.4 3.6" stroke-dashoffset="0.0"/>
<line x1="120.40" y1="645.00" x2="138.80" y2="645.00" stroke="#000" stroke-width="2.60" stroke-linecap="butt"/>
<line x1="120.40" y1="653.20" x2="138.80" y2="653.20" stroke="#000" stroke-width="2.60" stroke-linecap="butt"/>
<line x1="120.40" y1="661.20" x2="138.80" y2="661.20" stroke="#000" stroke-width="2.60" stroke-linecap="butt"/>
<line x1="120.40" y1="669.20" x2="138.80" y2="669.20" stroke="#000" stroke-width="2.60" stroke-linecap="butt"/>
<line x1="120.40" y1="677.80" x2="138.80" y2="677.80" stroke="#000" stroke-width="2.60" stroke-linecap="butt"/>
<line x1="120.40" y1="685.60" x2="138.80" y2="685.60" stroke="#000" stroke-width="2.60" stroke-linecap="butt"/>
<line x1="131.8" y1="665.20" x2="236.0" y2="665.20" stroke="#ff0000" stroke-width="2.6" stroke-dasharray="8.4 3.6" stroke-dashoffset="0.0"/>
<path d="M142.60,639.80 C145.34,639.80 145.95,640.68 145.95,642.88 L145.95,647.50 C145.95,649.70 147.17,650.80 148.70,650.80 C147.17,650.80 145.95,651.95 145.95,654.25 L145.95,659.08 C145.95,661.38 145.34,662.30 142.60,662.30" stroke="#000" stroke-width="1.70" fill="none" stroke-linejoin="round" stroke-linecap="round"/>
<text x="155.62" y="656.40" style="font-size:17.40px;fill:#000" textLength="35.55" lengthAdjust="spacingAndGlyphs">OCV</text>
<text x="191.88" y="662.70" style="font-size:12.40px;fill:#000">dark</text>
<text x="37.23" y="670.20" style="font-size:25.50px;font-style:italic;fill:#000" textLength="16.74" lengthAdjust="spacingAndGlyphs">E</text>
<text x="52.17" y="678.60" style="font-size:16.84px;fill:#000" textLength="4.61" lengthAdjust="spacingAndGlyphs">f</text>
<text x="67.52" y="669.70" style="font-size:16.40px;fill:#000" textLength="39.18" lengthAdjust="spacingAndGlyphs">BiVO</text>
<text x="106.90" y="673.90" style="font-size:9.88px;fill:#000" textLength="4.97" lengthAdjust="spacingAndGlyphs">4</text>
<text x="35.23" y="582.70" style="font-size:21.20px;fill:#000">CBM</text>
<text x="35.91" y="758.75" style="font-size:21.20px;fill:#000">VBM</text>
<text x="163.12" y="705.20" style="font-size:25.80px;font-style:italic;fill:#ff0000" textLength="16.84" lengthAdjust="spacingAndGlyphs">E</text>
<text x="177.99" y="713.50" style="font-size:16.50px;fill:#ff0000" textLength="41.69" lengthAdjust="spacingAndGlyphs">redox</text>
<text transform="translate(16.60,730.80) rotate(-90)" x="-1.55" y="0" style="font-size:19.70px" textLength="39.82" lengthAdjust="spacingAndGlyphs">Dark</text>
<line x1="0.60" y1="673.20" x2="18.50" y2="673.20" stroke="#000" stroke-width="2.70" stroke-linecap="butt"/>
<path d="M11.0,665.8 L18.4,673.2 L11.0,680.6" stroke="#000" stroke-width="2.7" fill="none" stroke-linejoin="miter" stroke-linecap="butt"/>
<line x1="147.00" y1="747.50" x2="136.40" y2="689.60" stroke="#000" stroke-width="1.80" stroke-linecap="round"/>
<line x1="136.40" y1="689.60" x2="145.66" y2="700.89" stroke="#000" stroke-width="1.80" stroke-linecap="round"/>
<line x1="136.40" y1="689.60" x2="131.74" y2="703.44" stroke="#000" stroke-width="1.80" stroke-linecap="round"/>
<text x="123.64" y="754.40" style="font-size:16.90px;fill:#000" textLength="118.43" lengthAdjust="spacingAndGlyphs">Surface trapped</text>
<text x="151.19" y="773.75" style="font-size:16.90px;fill:#000" textLength="67.51" lengthAdjust="spacingAndGlyphs">electrons</text>
<text x="179.66" y="808.80" style="font-size:25.20px;fill:#000" textLength="119.03" lengthAdjust="spacingAndGlyphs">Pure-BiVO</text>
<text x="299.66" y="817.20" style="font-size:16.28px;fill:#000" textLength="8.17" lengthAdjust="spacingAndGlyphs">4</text>
<rect x="275.50" y="558.30" width="102.10" height="220.10" fill="#e6fc19"/>
<rect x="377.60" y="558.30" width="103.60" height="220.10" fill="#03b0f0"/>
<path d="M275.90,597.10 C280.63,597.07 295.84,597.12 304.27,596.90 C312.70,596.69 320.01,596.31 326.50,595.80 C332.99,595.28 338.39,594.62 343.20,593.80 C348.01,592.99 351.69,592.12 355.37,590.90 C359.06,589.68 362.57,588.25 365.33,586.50 C368.10,584.75 370.11,582.73 371.97,580.40 C373.83,578.06 375.75,573.82 376.50,572.50" stroke="#000" stroke-width="3.00" fill="none"/>
<path d="M275.90,718.00 C280.63,717.97 295.84,718.02 304.27,717.80 C312.70,717.59 320.01,717.21 326.50,716.70 C332.99,716.18 338.39,715.52 343.20,714.70 C348.01,713.89 351.69,713.02 355.37,711.80 C359.06,710.58 362.57,709.15 365.33,707.40 C368.10,705.65 370.11,703.63 371.97,701.30 C373.83,698.96 375.75,694.72 376.50,693.40" stroke="#000" stroke-width="3.00" fill="none"/>
<line x1="276.8" y1="613.30" x2="370.0" y2="613.30" stroke="#000" stroke-width="2.6" stroke-dasharray="8.4 3.6" stroke-dashoffset="0.0"/>
<line x1="234.0" y1="644.80" x2="290.0" y2="644.80" stroke="#000" stroke-width="2.6" stroke-dasharray="8.4 3.6" stroke-dashoffset="0.0"/>
<path d="M274.40,614.90 C270.89,614.90 270.11,616.03 270.11,618.85 L270.11,624.77 C270.11,627.59 268.55,629.00 266.60,629.00 C268.55,629.00 270.11,630.57 270.11,633.71 L270.11,640.30 C270.11,643.44 270.89,644.70 274.40,644.70" stroke="#000" stroke-width="2.20" fill="none" stroke-linejoin="round" stroke-linecap="round"/>
<text x="238.32" y="627.00" style="font-size:20.90px;font-style:italic;fill:#000" textLength="12.97" lengthAdjust="spacingAndGlyphs">V</text>
<text x="250.04" y="635.10" style="font-size:11.50px;fill:#000" textLength="14.82" lengthAdjust="spacingAndGlyphs">ph</text>
<path d="M326.20,613.00 C326.47,614.33 327.01,618.05 327.81,620.98 C328.61,623.91 329.65,627.64 330.98,630.58 C332.32,633.51 333.94,636.06 335.81,638.60 C337.68,641.14 339.68,643.42 342.21,645.82 C344.74,648.21 347.79,650.85 350.99,652.98 C354.19,655.11 357.38,656.81 361.38,658.62 C365.39,660.42 372.73,662.94 375.00,663.80" stroke="#000" stroke-width="3.00" fill="none"/>
<line x1="369.80" y1="613.00" x2="387.80" y2="613.00" stroke="#000" stroke-width="2.60" stroke-linecap="butt"/>
<line x1="369.80" y1="622.20" x2="387.80" y2="622.20" stroke="#000" stroke-width="2.60" stroke-linecap="butt"/>
<line x1="369.80" y1="630.20" x2="387.80" y2="630.20" stroke="#000" stroke-width="2.60" stroke-linecap="butt"/>
<line x1="369.80" y1="638.60" x2="387.80" y2="638.60" stroke="#000" stroke-width="2.60" stroke-linecap="butt"/>
<line x1="369.80" y1="646.80" x2="387.80" y2="646.80" stroke="#000" stroke-width="2.60" stroke-linecap="butt"/>
<line x1="369.80" y1="654.60" x2="387.80" y2="654.60" stroke="#000" stroke-width="2.60" stroke-linecap="butt"/>
<path d="M389.60,612.80 C394.73,612.80 395.87,614.48 395.87,618.68 L395.87,627.50 C395.87,631.70 398.15,633.80 401.00,633.80 C398.15,633.80 395.87,636.06 395.87,640.58 L395.87,650.07 C395.87,654.59 394.73,656.40 389.60,656.40" stroke="#000" stroke-width="4.60" fill="none" stroke-linejoin="round" stroke-linecap="round"/>
<text x="406.02" y="640.00" style="font-size:17.40px;fill:#000" textLength="35.55" lengthAdjust="spacingAndGlyphs">OCV</text>
<text x="441.96" y="646.30" style="font-size:12.40px;fill:#000">light</text>
<text x="388.90" y="591.80" style="font-size:25.50px;font-style:italic;fill:#000" textLength="17.26" lengthAdjust="spacingAndGlyphs">E</text>
<text x="404.23" y="599.40" style="font-size:18.35px;fill:#000" textLength="15.69" lengthAdjust="spacingAndGlyphs">fn</text>
<text x="427.29" y="590.40" style="font-size:16.40px;fill:#000" textLength="40.24" lengthAdjust="spacingAndGlyphs">BiVO</text>
<text x="466.90" y="594.70" style="font-size:10.32px;fill:#000" textLength="4.97" lengthAdjust="spacingAndGlyphs">4</text>
<line x1="382.0" y1="665.60" x2="487.0" y2="665.60" stroke="#ff0000" stroke-width="2.6" stroke-dasharray="8.4 3.6" stroke-dashoffset="0.0"/>
<text transform="translate(260.30,728.70) rotate(-90)" x="-1.55" y="0" style="font-size:19.70px" textLength="40.99" lengthAdjust="spacingAndGlyphs">Light</text>
<line x1="244.30" y1="674.00" x2="262.50" y2="674.00" stroke="#000" stroke-width="2.70" stroke-linecap="butt"/>
<path d="M255.0,666.6 L262.4,674.0 L255.0,681.4" stroke="#000" stroke-width="2.7" fill="none" stroke-linejoin="miter" stroke-linecap="butt"/>
<text x="289.23" y="690.00" style="font-size:25.50px;font-style:italic;fill:#000" textLength="16.74" lengthAdjust="spacingAndGlyphs">E</text>
<text x="304.58" y="698.30" style="font-size:16.15px;fill:#000" textLength="13.08" lengthAdjust="spacingAndGlyphs">fp</text>
<text x="326.36" y="690.20" style="font-size:16.40px;fill:#000" textLength="39.55" lengthAdjust="spacingAndGlyphs">BiVO</text>
<text x="365.80" y="694.25" style="font-size:9.81px;fill:#000" textLength="4.97" lengthAdjust="spacingAndGlyphs">4</text>
<text x="408.62" y="704.45" style="font-size:25.80px;font-style:italic;fill:#ff0000" textLength="16.84" lengthAdjust="spacingAndGlyphs">E</text>
<text x="423.49" y="712.75" style="font-size:16.50px;fill:#ff0000" textLength="41.69" lengthAdjust="spacingAndGlyphs">redox</text>
<line x1="399.00" y1="719.40" x2="384.70" y2="668.70" stroke="#000" stroke-width="1.80" stroke-linecap="round"/>
<line x1="384.70" y1="668.70" x2="394.98" y2="679.07" stroke="#000" stroke-width="1.80" stroke-linecap="round"/>
<line x1="384.70" y1="668.70" x2="381.35" y2="682.91" stroke="#000" stroke-width="1.80" stroke-linecap="round"/>
<text x="363.94" y="736.30" style="font-size:16.90px;fill:#000" textLength="118.83" lengthAdjust="spacingAndGlyphs">Surface trapped</text>
<text x="391.79" y="755.80" style="font-size:16.90px;fill:#000" textLength="67.61" lengthAdjust="spacingAndGlyphs">electrons</text>
<text x="286.62" y="582.50" style="font-size:21.20px;fill:#000">CBM</text>
<text x="303.91" y="760.00" style="font-size:21.20px;fill:#000">VBM</text>
<rect x="543.00" y="558.40" width="100.75" height="220.20" fill="#e6fc19"/>
<rect x="643.75" y="558.40" width="103.45" height="220.20" fill="#03b0f0"/>
<path d="M543.00,610.75 C547.70,610.72 562.82,610.77 571.20,610.55 C579.58,610.33 586.85,609.95 593.30,609.42 C599.75,608.90 605.12,608.23 609.90,607.40 C614.68,606.57 618.33,605.69 622.00,604.45 C625.67,603.21 629.15,601.75 631.90,599.98 C634.65,598.20 636.65,596.15 638.50,593.77 C640.35,591.40 642.25,587.09 643.00,585.75" stroke="#000" stroke-width="3.00" fill="none"/>
<path d="M543.00,726.25 C547.70,726.22 562.82,726.27 571.20,726.05 C579.58,725.83 586.85,725.45 593.30,724.92 C599.75,724.40 605.12,723.73 609.90,722.90 C614.68,722.07 618.33,721.19 622.00,719.95 C625.67,718.71 629.15,717.25 631.90,715.48 C634.65,713.70 636.65,711.65 638.50,709.27 C640.35,706.90 642.25,702.59 643.00,701.25" stroke="#000" stroke-width="3.00" fill="none"/>
<line x1="545.8" y1="657.80" x2="638.3" y2="657.80" stroke="#000" stroke-width="2.6" stroke-dasharray="8.4 3.6" stroke-dashoffset="0.0"/>
<line x1="638.30" y1="657.90" x2="656.40" y2="657.90" stroke="#000" stroke-width="2.60" stroke-linecap="butt"/>
<line x1="638.30" y1="666.40" x2="656.40" y2="666.40" stroke="#000" stroke-width="2.60" stroke-linecap="butt"/>
<line x1="638.30" y1="674.40" x2="656.40" y2="674.40" stroke="#000" stroke-width="2.60" stroke-linecap="butt"/>
<line x1="650.0" y1="665.00" x2="753.8" y2="665.00" stroke="#ff0000" stroke-width="2.6" stroke-dasharray="8.4 3.6" stroke-dashoffset="0.0"/>
<line x1="661.25" y1="658.75" x2="675.00" y2="628.75" stroke="#000" stroke-width="1.80" stroke-linecap="round"/>
<line x1="675.00" y1="628.75" x2="676.11" y2="643.31" stroke="#000" stroke-width="1.80" stroke-linecap="round"/>
<line x1="675.00" y1="628.75" x2="663.24" y2="637.41" stroke="#000" stroke-width="1.80" stroke-linecap="round"/>
<text x="670.47" y="618.75" style="font-size:17.40px;fill:#000" textLength="35.55" lengthAdjust="spacingAndGlyphs">OCV</text>
<text x="706.73" y="625.05" style="font-size:12.40px;fill:#000">dark</text>
<line x1="660.00" y1="747.50" x2="647.50" y2="683.75" stroke="#000" stroke-width="1.80" stroke-linecap="round"/>
<line x1="647.50" y1="683.75" x2="656.90" y2="694.92" stroke="#000" stroke-width="1.80" stroke-linecap="round"/>
<line x1="647.50" y1="683.75" x2="643.01" y2="697.64" stroke="#000" stroke-width="1.80" stroke-linecap="round"/>
<text x="549.21" y="693.90" style="font-size:25.50px;font-style:italic;fill:#000" textLength="17.15" lengthAdjust="spacingAndGlyphs">E</text>
<text x="564.09" y="701.55" style="font-size:16.15px;fill:#000" textLength="5.19" lengthAdjust="spacingAndGlyphs">f</text>
<text x="580.06" y="693.70" style="font-size:16.40px;fill:#000" textLength="39.55" lengthAdjust="spacingAndGlyphs">BiVO</text>
<text x="619.47" y="697.95" style="font-size:9.16px;fill:#000" textLength="5.46" lengthAdjust="spacingAndGlyphs">4</text>
<text x="546.92" y="582.50" style="font-size:21.20px;fill:#000">CBM</text>
<text x="548.16" y="760.00" style="font-size:21.20px;fill:#000">VBM</text>
<text x="676.12" y="701.80" style="font-size:25.80px;font-style:italic;fill:#ff0000" textLength="16.84" lengthAdjust="spacingAndGlyphs">E</text>
<text x="690.99" y="710.10" style="font-size:16.50px;fill:#ff0000" textLength="41.69" lengthAdjust="spacingAndGlyphs">redox</text>
<text transform="translate(535.50,736.10) rotate(-90)" x="-1.53" y="0" style="font-size:19.70px" textLength="39.51" lengthAdjust="spacingAndGlyphs">Dark</text>
<line x1="520.10" y1="684.60" x2="537.90" y2="684.60" stroke="#000" stroke-width="2.70" stroke-linecap="butt"/>
<path d="M530.4,677.2 L537.8,684.6 L530.4,692.0" stroke="#000" stroke-width="2.7" fill="none" stroke-linejoin="miter" stroke-linecap="butt"/>
<text x="627.99" y="757.00" style="font-size:16.90px;fill:#000" textLength="119.34" lengthAdjust="spacingAndGlyphs">Surface trapped</text>
<text x="655.54" y="776.25" style="font-size:16.90px;fill:#000" textLength="68.07" lengthAdjust="spacingAndGlyphs">electrons</text>
<text x="666.02" y="809.00" style="font-size:25.20px;fill:#0070c0">0.05%MoBiVO</text>
<text x="829.40" y="816.80" style="font-size:16.13px;fill:#0070c0" textLength="9.60" lengthAdjust="spacingAndGlyphs">4</text>
<rect x="790.90" y="558.50" width="103.70" height="220.00" fill="#e6fc19"/>
<rect x="894.60" y="558.50" width="102.30" height="220.00" fill="#03b0f0"/>
<path d="M790.70,593.30 C795.56,593.27 811.17,593.32 819.83,593.09 C828.49,592.86 836.00,592.47 842.66,591.92 C849.32,591.38 854.87,590.68 859.81,589.82 C864.75,588.95 868.52,588.03 872.31,586.75 C876.09,585.46 879.69,583.94 882.53,582.09 C885.37,580.24 887.44,578.11 889.35,575.65 C891.26,573.18 893.23,568.69 894.00,567.30" stroke="#000" stroke-width="3.00" fill="none"/>
<path d="M790.70,709.00 C795.56,708.97 811.17,709.02 819.83,708.80 C828.49,708.58 836.00,708.21 842.66,707.69 C849.32,707.17 854.87,706.51 859.81,705.69 C864.75,704.87 868.52,704.00 872.31,702.78 C876.09,701.55 879.69,700.11 882.53,698.35 C885.37,696.60 887.44,694.57 889.35,692.23 C891.26,689.89 893.23,685.62 894.00,684.30" stroke="#000" stroke-width="3.00" fill="none"/>
<line x1="790.7" y1="606.30" x2="905.0" y2="606.30" stroke="#000" stroke-width="2.6" stroke-dasharray="8.4 3.6" stroke-dashoffset="0.0"/>
<line x1="749.0" y1="657.50" x2="815.4" y2="657.50" stroke="#000" stroke-width="2.6" stroke-dasharray="8.4 3.6" stroke-dashoffset="0.0"/>
<path d="M789.40,603.80 C783.28,603.80 781.92,605.82 781.92,610.88 L781.92,621.51 C781.92,626.57 779.20,629.10 775.80,629.10 C779.20,629.10 781.92,631.71 781.92,636.93 L781.92,647.89 C781.92,653.11 783.28,655.20 789.40,655.20" stroke="#000" stroke-width="4.80" fill="none" stroke-linejoin="round" stroke-linecap="round"/>
<text x="748.32" y="619.70" style="font-size:21.40px;font-style:italic;fill:#000" textLength="12.97" lengthAdjust="spacingAndGlyphs">V</text>
<text x="760.04" y="627.80" style="font-size:11.50px;fill:#000" textLength="14.82" lengthAdjust="spacingAndGlyphs">ph</text>
<path d="M842.70,606.00 C842.96,607.57 843.50,611.97 844.29,615.44 C845.07,618.90 846.10,623.32 847.41,626.79 C848.73,630.27 850.33,633.29 852.18,636.29 C854.02,639.30 855.98,641.99 858.48,644.82 C860.97,647.66 863.98,650.77 867.13,653.30 C870.29,655.82 873.44,657.84 877.38,659.97 C881.32,662.10 888.56,665.08 890.80,666.10" stroke="#000" stroke-width="3.00" fill="none"/>
<line x1="886.30" y1="605.90" x2="904.70" y2="605.90" stroke="#000" stroke-width="2.60" stroke-linecap="butt"/>
<line x1="886.30" y1="614.80" x2="904.70" y2="614.80" stroke="#000" stroke-width="2.60" stroke-linecap="butt"/>
<line x1="886.30" y1="622.30" x2="904.70" y2="622.30" stroke="#000" stroke-width="2.60" stroke-linecap="butt"/>
<path d="M906.30,604.80 C913.00,604.80 914.50,606.98 914.50,612.44 L914.50,623.91 C914.50,629.37 917.48,632.10 921.20,632.10 C917.48,632.10 914.50,634.95 914.50,640.65 L914.50,652.62 C914.50,658.32 913.00,660.60 906.30,660.60" stroke="#000" stroke-width="4.80" fill="none" stroke-linejoin="round" stroke-linecap="round"/>
<text x="925.22" y="640.00" style="font-size:17.40px;fill:#000" textLength="35.55" lengthAdjust="spacingAndGlyphs">OCV</text>
<text x="961.16" y="646.30" style="font-size:12.40px;fill:#000">light</text>
<text x="907.38" y="597.05" style="font-size:25.50px;font-style:italic;fill:#000" textLength="16.74" lengthAdjust="spacingAndGlyphs">E</text>
<text x="922.31" y="605.15" style="font-size:17.39px;fill:#000" textLength="13.92" lengthAdjust="spacingAndGlyphs">fn</text>
<text x="944.63" y="596.15" style="font-size:16.40px;fill:#000" textLength="39.07" lengthAdjust="spacingAndGlyphs">BiVO</text>
<text x="983.97" y="600.20" style="font-size:9.81px;fill:#000" textLength="5.52" lengthAdjust="spacingAndGlyphs">4</text>
<line x1="896.0" y1="665.60" x2="1000.0" y2="665.60" stroke="#ff0000" stroke-width="2.6" stroke-dasharray="8.4 3.6" stroke-dashoffset="0.0"/>
<text x="805.41" y="682.90" style="font-size:25.50px;font-style:italic;fill:#000" textLength="17.15" lengthAdjust="spacingAndGlyphs">E</text>
<text x="820.67" y="691.05" style="font-size:15.73px;fill:#000" textLength="13.72" lengthAdjust="spacingAndGlyphs">fp</text>
<text x="844.03" y="675.60" style="font-size:16.40px;fill:#000" textLength="38.92" lengthAdjust="spacingAndGlyphs">BiVO</text>
<text x="883.19" y="679.65" style="font-size:9.37px;fill:#000" textLength="5.19" lengthAdjust="spacingAndGlyphs">4</text>
<line x1="933.70" y1="712.90" x2="897.00" y2="628.30" stroke="#000" stroke-width="1.80" stroke-linecap="round"/>
<line x1="897.00" y1="628.30" x2="908.58" y2="637.20" stroke="#000" stroke-width="1.80" stroke-linecap="round"/>
<line x1="897.00" y1="628.30" x2="895.59" y2="642.83" stroke="#000" stroke-width="1.80" stroke-linecap="round"/>
<text x="875.74" y="733.20" style="font-size:16.90px;fill:#000" textLength="119.65" lengthAdjust="spacingAndGlyphs">Surface trapped</text>
<text x="904.29" y="752.80" style="font-size:16.90px;fill:#000" textLength="67.71" lengthAdjust="spacingAndGlyphs">electrons</text>
<text transform="translate(779.00,751.80) rotate(-90)" x="-1.52" y="0" style="font-size:19.70px" textLength="40.26" lengthAdjust="spacingAndGlyphs">Light</text>
<line x1="761.30" y1="695.50" x2="779.20" y2="695.50" stroke="#000" stroke-width="2.70" stroke-linecap="butt"/>
<path d="M771.7,688.1 L779.1,695.5 L771.7,702.9" stroke="#000" stroke-width="2.7" fill="none" stroke-linejoin="miter" stroke-linecap="butt"/>
<text x="934.42" y="696.80" style="font-size:25.80px;font-style:italic;fill:#ff0000" textLength="16.84" lengthAdjust="spacingAndGlyphs">E</text>
<text x="949.29" y="705.10" style="font-size:16.50px;fill:#ff0000" textLength="41.69" lengthAdjust="spacingAndGlyphs">redox</text>
<text x="803.42" y="582.10" style="font-size:21.20px;fill:#000">CBM</text>
<text x="804.91" y="760.00" style="font-size:21.20px;fill:#000">VBM</text>
<rect x="27.50" y="844.60" width="100.60" height="220.50" fill="#e6fc19"/>
<rect x="128.10" y="844.60" width="103.70" height="220.50" fill="#03b0f0"/>
<path d="M27.50,897.00 C32.20,896.97 47.32,897.02 55.70,896.80 C64.08,896.58 71.35,896.20 77.80,895.67 C84.25,895.15 89.62,894.48 94.40,893.65 C99.18,892.82 102.83,891.94 106.50,890.70 C110.17,889.46 113.65,888.00 116.40,886.23 C119.15,884.45 121.15,882.40 123.00,880.02 C124.85,877.65 126.75,873.34 127.50,872.00" stroke="#000" stroke-width="3.00" fill="none"/>
<path d="M27.50,1013.75 C32.20,1013.72 47.32,1013.77 55.70,1013.55 C64.08,1013.33 71.35,1012.95 77.80,1012.42 C84.25,1011.90 89.62,1011.23 94.40,1010.40 C99.18,1009.57 102.83,1008.69 106.50,1007.45 C110.17,1006.21 113.65,1004.75 116.40,1002.98 C119.15,1001.20 121.15,999.15 123.00,996.77 C124.85,994.40 126.75,990.09 127.50,988.75" stroke="#000" stroke-width="3.00" fill="none"/>
<line x1="29.5" y1="945.00" x2="127.5" y2="945.00" stroke="#000" stroke-width="2.6" stroke-dasharray="8.4 3.6" stroke-dashoffset="0.0"/>
<line x1="132.5" y1="954.25" x2="236.2" y2="954.25" stroke="#ff0000" stroke-width="2.6" stroke-dasharray="8.4 3.6" stroke-dashoffset="0.0"/>
<line x1="133.75" y1="948.75" x2="153.00" y2="925.00" stroke="#000" stroke-width="1.80" stroke-linecap="round"/>
<line x1="153.00" y1="925.00" x2="150.46" y2="939.38" stroke="#000" stroke-width="1.80" stroke-linecap="round"/>
<line x1="153.00" y1="925.00" x2="139.46" y2="930.46" stroke="#000" stroke-width="1.80" stroke-linecap="round"/>
<text x="158.72" y="928.75" style="font-size:17.40px;fill:#000" textLength="35.55" lengthAdjust="spacingAndGlyphs">OCV</text>
<text x="194.98" y="935.05" style="font-size:12.40px;fill:#000">dark</text>
<text x="37.12" y="979.10" style="font-size:25.50px;font-style:italic;fill:#000">E</text>
<text x="51.79" y="986.95" style="font-size:16.15px;fill:#000" textLength="5.19" lengthAdjust="spacingAndGlyphs">f</text>
<text x="65.06" y="978.85" style="font-size:16.40px;fill:#000" textLength="39.55" lengthAdjust="spacingAndGlyphs">BiVO</text>
<text x="104.47" y="983.35" style="font-size:9.16px;fill:#000" textLength="5.46" lengthAdjust="spacingAndGlyphs">4</text>
<text x="162.97" y="995.00" style="font-size:25.80px;font-style:italic;fill:#ff0000" textLength="16.84" lengthAdjust="spacingAndGlyphs">E</text>
<text x="177.84" y="1003.30" style="font-size:16.50px;fill:#ff0000" textLength="41.69" lengthAdjust="spacingAndGlyphs">redox</text>
<text x="35.17" y="870.00" style="font-size:21.20px;fill:#000">CBM</text>
<text x="36.91" y="1045.50" style="font-size:21.20px;fill:#000">VBM</text>
<text transform="translate(16.60,998.80) rotate(-90)" x="-1.56" y="0" style="font-size:19.70px" textLength="40.24" lengthAdjust="spacingAndGlyphs">Dark</text>
<line x1="0.60" y1="944.20" x2="18.50" y2="944.20" stroke="#000" stroke-width="2.70" stroke-linecap="butt"/>
<path d="M11.0,936.8 L18.4,944.2 L11.0,951.6" stroke="#000" stroke-width="2.7" fill="none" stroke-linejoin="miter" stroke-linecap="butt"/>
<text x="180.52" y="1097.50" style="font-size:25.20px;fill:#ff0000">0.1%MoBiVO</text>
<text x="330.74" y="1105.70" style="font-size:15.99px;fill:#ff0000" textLength="8.83" lengthAdjust="spacingAndGlyphs">4</text>
<rect x="275.30" y="844.60" width="103.70" height="220.50" fill="#e6fc19"/>
<rect x="379.00" y="844.60" width="102.00" height="220.50" fill="#03b0f0"/>
<path d="M276.80,878.90 C281.56,878.87 296.85,878.92 305.34,878.70 C313.82,878.48 321.18,878.10 327.70,877.58 C334.23,877.06 339.66,876.39 344.50,875.56 C349.34,874.74 353.04,873.86 356.75,872.63 C360.46,871.39 363.98,869.94 366.77,868.17 C369.55,866.40 371.57,864.35 373.45,861.99 C375.32,859.63 377.24,855.33 378.00,854.00" stroke="#000" stroke-width="3.00" fill="none"/>
<path d="M276.80,995.10 C281.54,995.07 296.80,995.12 305.25,994.90 C313.71,994.68 321.04,994.31 327.55,993.79 C334.06,993.27 339.48,992.61 344.30,991.79 C349.13,990.97 352.81,990.10 356.51,988.88 C360.21,987.65 363.73,986.21 366.50,984.45 C369.27,982.70 371.29,980.67 373.16,978.33 C375.03,975.99 376.94,971.72 377.70,970.40" stroke="#000" stroke-width="3.00" fill="none"/>
<line x1="276.8" y1="884.40" x2="378.4" y2="884.40" stroke="#000" stroke-width="2.6" stroke-dasharray="8.4 3.6" stroke-dashoffset="0.0"/>
<line x1="233.4" y1="945.00" x2="300.2" y2="945.00" stroke="#000" stroke-width="2.6" stroke-dasharray="8.4 3.6" stroke-dashoffset="0.0"/>
<path d="M275.80,881.50 C268.78,881.50 267.22,883.68 267.22,889.12 L267.22,900.54 C267.22,905.98 264.10,908.70 260.20,908.70 C264.10,908.70 267.22,911.71 267.22,917.73 L267.22,930.37 C267.22,936.39 268.78,938.80 275.80,938.80" stroke="#000" stroke-width="4.80" fill="none" stroke-linejoin="round" stroke-linecap="round"/>
<text x="232.12" y="909.70" style="font-size:22.00px;font-style:italic;fill:#000" textLength="12.97" lengthAdjust="spacingAndGlyphs">V</text>
<text x="243.84" y="917.80" style="font-size:11.50px;fill:#000" textLength="14.82" lengthAdjust="spacingAndGlyphs">ph</text>
<path d="M325.70,884.00 C325.97,885.77 326.51,890.72 327.30,894.63 C328.10,898.53 329.13,903.51 330.46,907.42 C331.79,911.34 333.41,914.74 335.27,918.12 C337.14,921.51 339.12,924.54 341.64,927.73 C344.16,930.93 347.21,934.44 350.39,937.28 C353.57,940.12 356.76,942.39 360.74,944.79 C364.73,947.20 372.04,950.55 374.30,951.70" stroke="#000" stroke-width="3.00" fill="none"/>
<path d="M380.60,888.50 C387.71,888.50 389.29,890.71 389.29,896.23 L389.29,907.82 C389.29,913.34 392.45,916.10 396.40,916.10 C392.45,916.10 389.29,918.94 389.29,924.62 L389.29,936.55 C389.29,942.23 387.71,944.50 380.60,944.50" stroke="#000" stroke-width="4.80" fill="none" stroke-linejoin="round" stroke-linecap="round"/>
<text x="402.12" y="926.20" style="font-size:17.40px;fill:#000" textLength="35.55" lengthAdjust="spacingAndGlyphs">OCV</text>
<text x="438.06" y="932.50" style="font-size:12.40px;fill:#000">light</text>
<text x="387.51" y="877.60" style="font-size:25.50px;font-style:italic;fill:#000" textLength="17.15" lengthAdjust="spacingAndGlyphs">E</text>
<text x="402.84" y="886.15" style="font-size:18.01px;fill:#000" textLength="15.19" lengthAdjust="spacingAndGlyphs">fn</text>
<text x="425.62" y="877.60" style="font-size:16.40px;fill:#000" textLength="39.29" lengthAdjust="spacingAndGlyphs">BiVO</text>
<text x="464.80" y="881.65" style="font-size:9.81px;fill:#000" textLength="4.97" lengthAdjust="spacingAndGlyphs">4</text>
<line x1="382.9" y1="954.80" x2="487.4" y2="954.80" stroke="#ff0000" stroke-width="2.6" stroke-dasharray="8.4 3.6" stroke-dashoffset="0.0"/>
<text x="284.34" y="962.55" style="font-size:25.50px;font-style:italic;fill:#000" textLength="16.58" lengthAdjust="spacingAndGlyphs">E</text>
<text x="299.82" y="970.80" style="font-size:15.87px;fill:#000" textLength="13.51" lengthAdjust="spacingAndGlyphs">fp</text>
<text x="321.90" y="962.80" style="font-size:16.40px;fill:#000" textLength="38.49" lengthAdjust="spacingAndGlyphs">BiVO</text>
<text x="361.19" y="967.15" style="font-size:8.07px;fill:#000" textLength="5.08" lengthAdjust="spacingAndGlyphs">4</text>
<text transform="translate(260.30,1025.70) rotate(-90)" x="-1.52" y="0" style="font-size:19.70px" textLength="40.26" lengthAdjust="spacingAndGlyphs">Light</text>
<line x1="244.00" y1="973.90" x2="262.20" y2="973.90" stroke="#000" stroke-width="2.70" stroke-linecap="butt"/>
<path d="M254.7,966.5 L262.1,973.9 L254.7,981.3" stroke="#000" stroke-width="2.7" fill="none" stroke-linejoin="miter" stroke-linecap="butt"/>
<text x="409.92" y="984.70" style="font-size:25.80px;font-style:italic;fill:#ff0000" textLength="16.84" lengthAdjust="spacingAndGlyphs">E</text>
<text x="424.79" y="993.00" style="font-size:16.50px;fill:#ff0000" textLength="41.69" lengthAdjust="spacingAndGlyphs">redox</text>
<text x="286.62" y="870.30" style="font-size:21.20px;fill:#000">CBM</text>
<text x="287.61" y="1045.80" style="font-size:21.20px;fill:#000">VBM</text>
<rect x="542.30" y="844.60" width="102.20" height="220.70" fill="#e6fc19"/>
<rect x="644.50" y="844.60" width="103.40" height="220.70" fill="#03b0f0"/>
<path d="M542.50,895.75 C547.57,895.70 564.14,895.72 572.90,895.45 C581.65,895.17 588.59,894.90 595.03,894.09 C601.47,893.28 606.95,891.82 611.55,890.57 C616.16,889.33 619.36,888.34 622.67,886.60 C625.99,884.87 628.88,882.79 631.44,880.17 C634.01,877.56 636.24,874.39 638.07,870.93 C639.91,867.46 641.39,863.61 642.46,859.37 C643.53,855.13 644.16,847.81 644.50,845.50" stroke="#000" stroke-width="3.00" fill="none"/>
<path d="M542.50,1018.75 C549.42,1018.72 574.34,1018.85 584.01,1018.54 C593.69,1018.23 595.03,1018.05 600.54,1016.91 C606.05,1015.78 612.47,1013.72 617.06,1011.72 C621.65,1009.71 624.95,1007.35 628.08,1004.89 C631.21,1002.43 633.62,1000.18 635.83,996.96 C638.04,993.74 639.96,989.74 641.34,985.57 C642.71,981.40 643.56,975.14 644.09,971.92 C644.62,968.70 644.43,967.19 644.50,966.25" stroke="#000" stroke-width="3.00" fill="none"/>
<line x1="545.8" y1="918.40" x2="645.0" y2="918.40" stroke="#000" stroke-width="2.6" stroke-dasharray="8.4 3.6" stroke-dashoffset="0.0"/>
<path d="M649.60,912.20 C654.24,912.20 655.26,913.74 655.26,917.58 L655.26,925.64 C655.26,929.48 657.33,931.40 659.90,931.40 C657.33,931.40 655.26,933.32 655.26,937.16 L655.26,945.22 C655.26,949.06 654.24,950.60 649.60,950.60" stroke="#000" stroke-width="3.60" fill="none" stroke-linejoin="round" stroke-linecap="round"/>
<text x="669.22" y="930.00" style="font-size:17.40px;fill:#000" textLength="35.55" lengthAdjust="spacingAndGlyphs">OCV</text>
<text x="705.48" y="936.30" style="font-size:12.40px;fill:#000">dark</text>
<line x1="646.2" y1="954.25" x2="751.2" y2="954.25" stroke="#ff0000" stroke-width="2.6" stroke-dasharray="8.4 3.6" stroke-dashoffset="0.0"/>
<line x1="663.75" y1="1018.00" x2="645.00" y2="922.50" stroke="#000" stroke-width="1.80" stroke-linecap="round"/>
<line x1="645.00" y1="922.50" x2="654.41" y2="933.67" stroke="#000" stroke-width="1.80" stroke-linecap="round"/>
<line x1="645.00" y1="922.50" x2="640.51" y2="936.39" stroke="#000" stroke-width="1.80" stroke-linecap="round"/>
<text x="558.08" y="952.50" style="font-size:25.50px;font-style:italic;fill:#000" textLength="16.74" lengthAdjust="spacingAndGlyphs">E</text>
<text x="573.01" y="960.15" style="font-size:16.15px;fill:#000" textLength="4.72" lengthAdjust="spacingAndGlyphs">f</text>
<text x="589.20" y="952.50" style="font-size:16.40px;fill:#000" textLength="39.76" lengthAdjust="spacingAndGlyphs">BiVO</text>
<text x="628.85" y="956.80" style="font-size:9.52px;fill:#000" textLength="4.97" lengthAdjust="spacingAndGlyphs">4</text>
<text x="676.22" y="995.00" style="font-size:25.80px;font-style:italic;fill:#ff0000" textLength="16.84" lengthAdjust="spacingAndGlyphs">E</text>
<text x="691.09" y="1003.30" style="font-size:16.50px;fill:#ff0000" textLength="41.69" lengthAdjust="spacingAndGlyphs">redox</text>
<text x="556.92" y="868.00" style="font-size:21.20px;fill:#000">CBM</text>
<text x="564.91" y="1045.00" style="font-size:21.20px;fill:#000">VBM</text>
<text x="614.63" y="1035.40" style="font-size:16.90px;fill:#000" textLength="133.47" lengthAdjust="spacingAndGlyphs">Trapped electrons</text>
<text x="658.41" y="1055.60" style="font-size:16.90px;fill:#000">by Mo</text>
<text transform="translate(532.00,1000.80) rotate(-90)" x="-1.56" y="0" style="font-size:19.70px" textLength="40.24" lengthAdjust="spacingAndGlyphs">Dark</text>
<line x1="516.70" y1="948.30" x2="534.50" y2="948.30" stroke="#000" stroke-width="2.70" stroke-linecap="butt"/>
<path d="M527.0,940.9 L534.4,948.3 L527.0,955.7" stroke="#000" stroke-width="2.7" fill="none" stroke-linejoin="miter" stroke-linecap="butt"/>
<text x="683.52" y="1097.50" style="font-size:25.20px;fill:#7030a0">0.5%MoBiVO</text>
<text x="833.74" y="1105.70" style="font-size:15.99px;fill:#7030a0" textLength="8.83" lengthAdjust="spacingAndGlyphs">4</text>
<rect x="791.30" y="844.60" width="102.10" height="221.90" fill="#e6fc19"/>
<rect x="893.40" y="844.60" width="102.40" height="221.90" fill="#03b0f0"/>
<path d="M791.50,878.60 C796.22,878.57 811.42,878.62 819.84,878.40 C828.27,878.19 835.57,877.81 842.05,877.30 C848.53,876.78 853.93,876.12 858.73,875.30 C863.54,874.49 867.21,873.62 870.89,872.40 C874.58,871.18 878.08,869.75 880.84,868.00 C883.61,866.25 885.62,864.23 887.48,861.90 C889.34,859.56 891.25,855.32 892.00,854.00" stroke="#000" stroke-width="3.00" fill="none"/>
<path d="M791.50,995.10 C796.23,995.07 811.44,995.12 819.87,994.90 C828.30,994.68 835.61,994.31 842.10,993.79 C848.59,993.27 853.99,992.61 858.80,991.79 C863.61,990.97 867.29,990.10 870.97,988.88 C874.66,987.65 878.17,986.21 880.93,984.45 C883.70,982.70 885.71,980.67 887.57,978.33 C889.43,975.99 891.35,971.72 892.10,970.40" stroke="#000" stroke-width="3.00" fill="none"/>
<line x1="791.5" y1="884.60" x2="893.4" y2="884.60" stroke="#000" stroke-width="2.6" stroke-dasharray="8.4 3.6" stroke-dashoffset="0.0"/>
<line x1="749.0" y1="918.40" x2="803.7" y2="918.40" stroke="#000" stroke-width="2.6" stroke-dasharray="8.4 3.6" stroke-dashoffset="0.0"/>
<path d="M785.40,885.90 C782.70,885.90 782.10,886.67 782.10,888.59 L782.10,892.62 C782.10,894.54 780.90,895.50 779.40,895.50 C780.90,895.50 782.10,896.48 782.10,898.44 L782.10,902.56 C782.10,904.52 782.70,905.30 785.40,905.30" stroke="#000" stroke-width="1.70" fill="none" stroke-linejoin="round" stroke-linecap="round"/>
<text x="752.92" y="897.60" style="font-size:21.50px;font-style:italic;fill:#000" textLength="12.97" lengthAdjust="spacingAndGlyphs">V</text>
<text x="764.64" y="905.70" style="font-size:11.50px;fill:#000" textLength="14.82" lengthAdjust="spacingAndGlyphs">ph</text>
<path d="M840.10,884.60 C840.38,886.36 840.95,891.27 841.79,895.13 C842.63,899.00 843.72,903.94 845.12,907.82 C846.52,911.70 848.22,915.06 850.19,918.42 C852.15,921.77 854.24,924.78 856.89,927.95 C859.55,931.11 862.76,934.59 866.11,937.41 C869.46,940.23 872.82,942.47 877.02,944.86 C881.21,947.24 888.92,950.56 891.30,951.70" stroke="#000" stroke-width="3.00" fill="none"/>
<path d="M894.20,888.20 C900.68,888.20 902.12,890.46 902.12,896.12 L902.12,908.01 C902.12,913.67 905.00,916.50 908.60,916.50 C905.00,916.50 902.12,919.33 902.12,924.99 L902.12,936.88 C902.12,942.54 900.68,944.80 894.20,944.80" stroke="#000" stroke-width="4.80" fill="none" stroke-linejoin="round" stroke-linecap="round"/>
<text x="912.92" y="921.00" style="font-size:17.40px;fill:#000" textLength="35.55" lengthAdjust="spacingAndGlyphs">OCV</text>
<text x="948.86" y="927.30" style="font-size:12.40px;fill:#000">light</text>
<text x="894.82" y="877.60" style="font-size:25.50px;font-style:italic;fill:#000">E</text>
<text x="909.76" y="885.70" style="font-size:16.77px;fill:#000" textLength="14.42" lengthAdjust="spacingAndGlyphs">fn</text>
<text x="933.62" y="878.05" style="font-size:16.40px;fill:#000" textLength="39.29" lengthAdjust="spacingAndGlyphs">BiVO</text>
<text x="972.80" y="882.55" style="font-size:9.16px;fill:#000" textLength="4.97" lengthAdjust="spacingAndGlyphs">4</text>
<line x1="895.5" y1="954.80" x2="1000.0" y2="954.80" stroke="#ff0000" stroke-width="2.6" stroke-dasharray="8.4 3.6" stroke-dashoffset="0.0"/>
<text x="804.43" y="960.00" style="font-size:24.70px;fill:#000">E</text>
<text x="821.37" y="967.80" style="font-size:15.18px;fill:#000" textLength="13.35" lengthAdjust="spacingAndGlyphs">fp</text>
<text x="842.66" y="962.00" style="font-size:16.40px;fill:#000">BiVO</text>
<text x="881.17" y="966.25" style="font-size:9.08px;fill:#000" textLength="5.63" lengthAdjust="spacingAndGlyphs">4</text>
<text transform="translate(774.00,1022.75) rotate(-90)" x="-1.52" y="0" style="font-size:19.70px" textLength="40.26" lengthAdjust="spacingAndGlyphs">Light</text>
<line x1="759.10" y1="967.90" x2="777.30" y2="967.90" stroke="#000" stroke-width="2.70" stroke-linecap="butt"/>
<path d="M769.8,960.5 L777.2,967.9 L769.8,975.3" stroke="#000" stroke-width="2.7" fill="none" stroke-linejoin="miter" stroke-linecap="butt"/>
<text x="924.72" y="989.20" style="font-size:25.80px;font-style:italic;fill:#ff0000" textLength="16.84" lengthAdjust="spacingAndGlyphs">E</text>
<text x="939.59" y="997.50" style="font-size:16.50px;fill:#ff0000" textLength="41.69" lengthAdjust="spacingAndGlyphs">redox</text>
<text x="806.92" y="869.00" style="font-size:21.20px;fill:#000">CBM</text>
<text x="816.61" y="1043.70" style="font-size:21.20px;fill:#000">VBM</text>
</svg>
</body></html>
